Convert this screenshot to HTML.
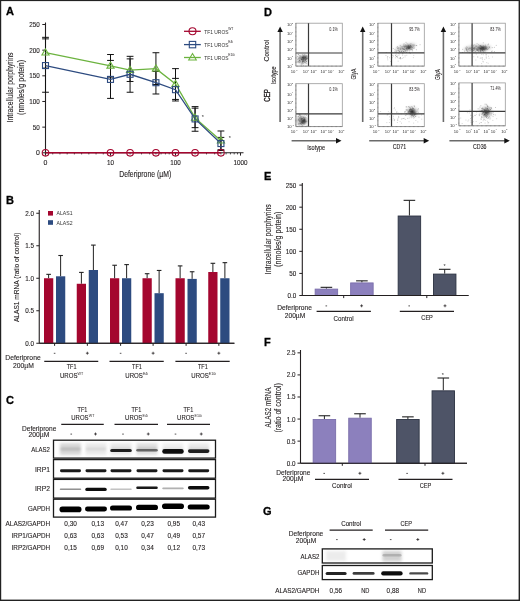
<!DOCTYPE html>
<html><head><meta charset="utf-8"><style>
html,body{margin:0;padding:0;background:#fff;}
body{width:520px;height:601px;overflow:hidden;font-family:"Liberation Sans", sans-serif;}
svg{display:block;will-change:transform;}
</style></head><body>
<svg width="520" height="601" viewBox="0 0 520 601" font-family='"Liberation Sans", sans-serif'><defs><filter id="bl5" x="-50%" y="-200%" width="200%" height="500%"><feGaussianBlur stdDeviation="0.5"/></filter><filter id="bl6" x="-50%" y="-200%" width="200%" height="500%"><feGaussianBlur stdDeviation="0.6"/></filter><filter id="bl7" x="-50%" y="-200%" width="200%" height="500%"><feGaussianBlur stdDeviation="0.7"/></filter><filter id="bl12" x="-50%" y="-200%" width="200%" height="500%"><feGaussianBlur stdDeviation="1.2"/></filter><filter id="bl13" x="-50%" y="-200%" width="200%" height="500%"><feGaussianBlur stdDeviation="1.3"/></filter><filter id="bl15" x="-50%" y="-200%" width="200%" height="500%"><feGaussianBlur stdDeviation="1.5"/></filter></defs><text x="6.00" y="15.26" font-size="11.00" text-anchor="start" fill="#000" font-weight="bold" stroke="#000" stroke-width="0.3">A</text>
<text x="6.00" y="204.46" font-size="11.00" text-anchor="start" fill="#000" font-weight="bold" stroke="#000" stroke-width="0.3">B</text>
<text x="6.00" y="404.46" font-size="11.00" text-anchor="start" fill="#000" font-weight="bold" stroke="#000" stroke-width="0.3">C</text>
<text x="264.00" y="15.66" font-size="11.00" text-anchor="start" fill="#000" font-weight="bold" stroke="#000" stroke-width="0.3">D</text>
<text x="264.00" y="179.56" font-size="11.00" text-anchor="start" fill="#000" font-weight="bold" stroke="#000" stroke-width="0.3">E</text>
<text x="264.00" y="345.66" font-size="11.00" text-anchor="start" fill="#000" font-weight="bold" stroke="#000" stroke-width="0.3">F</text>
<text x="263.00" y="514.56" font-size="11.00" text-anchor="start" fill="#000" font-weight="bold" stroke="#000" stroke-width="0.3">G</text>
<line x1="45.50" y1="22.50" x2="45.50" y2="155.00" stroke="#231f20" stroke-width="1.1" />
<line x1="42.30" y1="152.80" x2="45.50" y2="152.80" stroke="#231f20" stroke-width="1" />
<text x="39.80" y="155.29" font-size="6.93" text-anchor="end" fill="#231f20" stroke="#231f20" stroke-width="0.12">0</text>
<line x1="42.30" y1="127.14" x2="45.50" y2="127.14" stroke="#231f20" stroke-width="1" />
<text x="39.80" y="129.63" font-size="6.93" text-anchor="end" fill="#231f20" textLength="7.01" lengthAdjust="spacingAndGlyphs" stroke="#231f20" stroke-width="0.12">50</text>
<line x1="42.30" y1="101.48" x2="45.50" y2="101.48" stroke="#231f20" stroke-width="1" />
<text x="39.80" y="103.97" font-size="6.93" text-anchor="end" fill="#231f20" textLength="10.51" lengthAdjust="spacingAndGlyphs" stroke="#231f20" stroke-width="0.12">100</text>
<line x1="42.30" y1="75.82" x2="45.50" y2="75.82" stroke="#231f20" stroke-width="1" />
<text x="39.80" y="78.31" font-size="6.93" text-anchor="end" fill="#231f20" textLength="10.51" lengthAdjust="spacingAndGlyphs" stroke="#231f20" stroke-width="0.12">150</text>
<line x1="42.30" y1="50.16" x2="45.50" y2="50.16" stroke="#231f20" stroke-width="1" />
<text x="39.80" y="52.65" font-size="6.93" text-anchor="end" fill="#231f20" textLength="10.51" lengthAdjust="spacingAndGlyphs" stroke="#231f20" stroke-width="0.12">200</text>
<line x1="42.30" y1="24.50" x2="45.50" y2="24.50" stroke="#231f20" stroke-width="1" />
<text x="39.80" y="26.99" font-size="6.93" text-anchor="end" fill="#231f20" textLength="10.51" lengthAdjust="spacingAndGlyphs" stroke="#231f20" stroke-width="0.12">250</text>
<line x1="45.50" y1="152.80" x2="243.50" y2="152.80" stroke="#231f20" stroke-width="1.1" />
<line x1="45.50" y1="152.80" x2="45.50" y2="155.60" stroke="#231f20" stroke-width="1" />
<line x1="110.50" y1="152.80" x2="110.50" y2="155.60" stroke="#231f20" stroke-width="1" />
<line x1="175.50" y1="152.80" x2="175.50" y2="155.60" stroke="#231f20" stroke-width="1" />
<line x1="240.50" y1="152.80" x2="240.50" y2="155.60" stroke="#231f20" stroke-width="1" />
<line x1="52.72" y1="152.80" x2="52.72" y2="154.40" stroke="#231f20" stroke-width="0.8" />
<line x1="59.94" y1="152.80" x2="59.94" y2="154.40" stroke="#231f20" stroke-width="0.8" />
<line x1="67.17" y1="152.80" x2="67.17" y2="154.40" stroke="#231f20" stroke-width="0.8" />
<line x1="74.39" y1="152.80" x2="74.39" y2="154.40" stroke="#231f20" stroke-width="0.8" />
<line x1="81.61" y1="152.80" x2="81.61" y2="154.40" stroke="#231f20" stroke-width="0.8" />
<line x1="88.83" y1="152.80" x2="88.83" y2="154.40" stroke="#231f20" stroke-width="0.8" />
<line x1="96.06" y1="152.80" x2="96.06" y2="154.40" stroke="#231f20" stroke-width="0.8" />
<line x1="103.28" y1="152.80" x2="103.28" y2="154.40" stroke="#231f20" stroke-width="0.8" />
<line x1="110.50" y1="152.80" x2="110.50" y2="154.40" stroke="#231f20" stroke-width="0.8" />
<line x1="130.07" y1="152.80" x2="130.07" y2="154.40" stroke="#231f20" stroke-width="0.8" />
<line x1="141.51" y1="152.80" x2="141.51" y2="154.40" stroke="#231f20" stroke-width="0.8" />
<line x1="149.63" y1="152.80" x2="149.63" y2="154.40" stroke="#231f20" stroke-width="0.8" />
<line x1="155.93" y1="152.80" x2="155.93" y2="154.40" stroke="#231f20" stroke-width="0.8" />
<line x1="161.08" y1="152.80" x2="161.08" y2="154.40" stroke="#231f20" stroke-width="0.8" />
<line x1="165.43" y1="152.80" x2="165.43" y2="154.40" stroke="#231f20" stroke-width="0.8" />
<line x1="169.20" y1="152.80" x2="169.20" y2="154.40" stroke="#231f20" stroke-width="0.8" />
<line x1="172.53" y1="152.80" x2="172.53" y2="154.40" stroke="#231f20" stroke-width="0.8" />
<line x1="195.07" y1="152.80" x2="195.07" y2="154.40" stroke="#231f20" stroke-width="0.8" />
<line x1="206.51" y1="152.80" x2="206.51" y2="154.40" stroke="#231f20" stroke-width="0.8" />
<line x1="214.63" y1="152.80" x2="214.63" y2="154.40" stroke="#231f20" stroke-width="0.8" />
<line x1="220.93" y1="152.80" x2="220.93" y2="154.40" stroke="#231f20" stroke-width="0.8" />
<line x1="226.08" y1="152.80" x2="226.08" y2="154.40" stroke="#231f20" stroke-width="0.8" />
<line x1="230.43" y1="152.80" x2="230.43" y2="154.40" stroke="#231f20" stroke-width="0.8" />
<line x1="234.20" y1="152.80" x2="234.20" y2="154.40" stroke="#231f20" stroke-width="0.8" />
<line x1="237.53" y1="152.80" x2="237.53" y2="154.40" stroke="#231f20" stroke-width="0.8" />
<text x="45.50" y="165.49" font-size="6.93" text-anchor="middle" fill="#231f20" stroke="#231f20" stroke-width="0.12">0</text>
<text x="110.50" y="165.49" font-size="6.93" text-anchor="middle" fill="#231f20" textLength="7.01" lengthAdjust="spacingAndGlyphs" stroke="#231f20" stroke-width="0.12">10</text>
<text x="175.50" y="165.49" font-size="6.93" text-anchor="middle" fill="#231f20" textLength="10.51" lengthAdjust="spacingAndGlyphs" stroke="#231f20" stroke-width="0.12">100</text>
<text x="240.50" y="165.49" font-size="6.93" text-anchor="middle" fill="#231f20" textLength="14.02" lengthAdjust="spacingAndGlyphs" stroke="#231f20" stroke-width="0.12">1000</text>
<text x="145.20" y="177.22" font-size="8.40" text-anchor="middle" fill="#231f20" textLength="52.00" lengthAdjust="spacingAndGlyphs" stroke="#231f20" stroke-width="0.12">Deferiprone (µM)</text>
<text x="9.80" y="90.52" font-size="8.40" text-anchor="middle" fill="#231f20" textLength="70.00" lengthAdjust="spacingAndGlyphs" transform="rotate(-90 9.80 87.50)" stroke="#231f20" stroke-width="0.12">Intracellular porphyrins</text>
<text x="20.80" y="90.52" font-size="8.40" text-anchor="middle" fill="#231f20" textLength="55.00" lengthAdjust="spacingAndGlyphs" transform="rotate(-90 20.80 87.50)" stroke="#231f20" stroke-width="0.12">(nmoles/g potein)</text>
<line x1="45.50" y1="38.87" x2="45.50" y2="92.24" stroke="#111" stroke-width="1" />
<line x1="42.10" y1="38.87" x2="48.90" y2="38.87" stroke="#111" stroke-width="1" />
<line x1="42.10" y1="92.24" x2="48.90" y2="92.24" stroke="#111" stroke-width="1" />
<line x1="110.50" y1="60.42" x2="110.50" y2="98.40" stroke="#111" stroke-width="1" />
<line x1="107.10" y1="60.42" x2="113.90" y2="60.42" stroke="#111" stroke-width="1" />
<line x1="107.10" y1="98.40" x2="113.90" y2="98.40" stroke="#111" stroke-width="1" />
<line x1="130.07" y1="56.32" x2="130.07" y2="92.24" stroke="#111" stroke-width="1" />
<line x1="126.67" y1="56.32" x2="133.47" y2="56.32" stroke="#111" stroke-width="1" />
<line x1="126.67" y1="92.24" x2="133.47" y2="92.24" stroke="#111" stroke-width="1" />
<line x1="155.93" y1="71.41" x2="155.93" y2="93.99" stroke="#111" stroke-width="1" />
<line x1="152.53" y1="71.41" x2="159.33" y2="71.41" stroke="#111" stroke-width="1" />
<line x1="152.53" y1="93.99" x2="159.33" y2="93.99" stroke="#111" stroke-width="1" />
<line x1="175.50" y1="78.39" x2="175.50" y2="100.97" stroke="#111" stroke-width="1" />
<line x1="172.10" y1="78.39" x2="178.90" y2="78.39" stroke="#111" stroke-width="1" />
<line x1="172.10" y1="100.97" x2="178.90" y2="100.97" stroke="#111" stroke-width="1" />
<line x1="195.07" y1="106.61" x2="195.07" y2="131.25" stroke="#111" stroke-width="1" />
<line x1="191.67" y1="106.61" x2="198.47" y2="106.61" stroke="#111" stroke-width="1" />
<line x1="191.67" y1="131.25" x2="198.47" y2="131.25" stroke="#111" stroke-width="1" />
<line x1="220.93" y1="137.40" x2="220.93" y2="149.72" stroke="#111" stroke-width="1" />
<line x1="217.53" y1="137.40" x2="224.33" y2="137.40" stroke="#111" stroke-width="1" />
<line x1="217.53" y1="149.72" x2="224.33" y2="149.72" stroke="#111" stroke-width="1" />
<line x1="45.50" y1="37.33" x2="45.50" y2="68.12" stroke="#111" stroke-width="1" />
<line x1="42.10" y1="37.33" x2="48.90" y2="37.33" stroke="#111" stroke-width="1" />
<line x1="42.10" y1="68.12" x2="48.90" y2="68.12" stroke="#111" stroke-width="1" />
<line x1="110.50" y1="54.52" x2="110.50" y2="77.10" stroke="#111" stroke-width="1" />
<line x1="107.10" y1="54.52" x2="113.90" y2="54.52" stroke="#111" stroke-width="1" />
<line x1="107.10" y1="77.10" x2="113.90" y2="77.10" stroke="#111" stroke-width="1" />
<line x1="130.07" y1="58.88" x2="130.07" y2="81.47" stroke="#111" stroke-width="1" />
<line x1="126.67" y1="58.88" x2="133.47" y2="58.88" stroke="#111" stroke-width="1" />
<line x1="126.67" y1="81.47" x2="133.47" y2="81.47" stroke="#111" stroke-width="1" />
<line x1="155.93" y1="52.73" x2="155.93" y2="84.54" stroke="#111" stroke-width="1" />
<line x1="152.53" y1="52.73" x2="159.33" y2="52.73" stroke="#111" stroke-width="1" />
<line x1="152.53" y1="84.54" x2="159.33" y2="84.54" stroke="#111" stroke-width="1" />
<line x1="175.50" y1="68.64" x2="175.50" y2="99.43" stroke="#111" stroke-width="1" />
<line x1="172.10" y1="68.64" x2="178.90" y2="68.64" stroke="#111" stroke-width="1" />
<line x1="172.10" y1="99.43" x2="178.90" y2="99.43" stroke="#111" stroke-width="1" />
<line x1="195.07" y1="108.15" x2="195.07" y2="127.65" stroke="#111" stroke-width="1" />
<line x1="191.67" y1="108.15" x2="198.47" y2="108.15" stroke="#111" stroke-width="1" />
<line x1="191.67" y1="127.65" x2="198.47" y2="127.65" stroke="#111" stroke-width="1" />
<line x1="220.93" y1="130.99" x2="220.93" y2="150.49" stroke="#111" stroke-width="1" />
<line x1="217.53" y1="130.99" x2="224.33" y2="130.99" stroke="#111" stroke-width="1" />
<line x1="217.53" y1="150.49" x2="224.33" y2="150.49" stroke="#111" stroke-width="1" />
<polyline points="45.50,52.73 110.50,65.81 130.07,70.17 155.93,68.64 175.50,84.03 195.07,117.90 220.93,140.74" fill="none" stroke="#6cb33f" stroke-width="1.3"/>
<polyline points="45.50,65.56 110.50,79.41 130.07,74.28 155.93,82.70 175.50,89.68 195.07,118.93 220.93,143.56" fill="none" stroke="#2d4b80" stroke-width="1.3"/>
<line x1="45.50" y1="152.80" x2="220.93" y2="152.80" stroke="#a4062f" stroke-width="1.4" />
<polygon points="45.50,48.93 49.10,55.05 41.90,55.05" fill="none" stroke="#6cb33f" stroke-width="1.1"/>
<polygon points="110.50,62.02 114.10,68.14 106.90,68.14" fill="none" stroke="#6cb33f" stroke-width="1.1"/>
<polygon points="130.07,66.38 133.67,72.50 126.47,72.50" fill="none" stroke="#6cb33f" stroke-width="1.1"/>
<polygon points="155.93,64.84 159.53,70.96 152.33,70.96" fill="none" stroke="#6cb33f" stroke-width="1.1"/>
<polygon points="175.50,80.24 179.10,86.36 171.90,86.36" fill="none" stroke="#6cb33f" stroke-width="1.1"/>
<polygon points="195.07,114.11 198.67,120.23 191.47,120.23" fill="none" stroke="#6cb33f" stroke-width="1.1"/>
<polygon points="220.93,136.95 224.53,143.07 217.33,143.07" fill="none" stroke="#6cb33f" stroke-width="1.1"/>
<rect x="42.50" y="62.56" width="6.00" height="6.00" fill="none" stroke="#2d4b80" stroke-width="1.1"/>
<rect x="107.50" y="76.41" width="6.00" height="6.00" fill="none" stroke="#2d4b80" stroke-width="1.1"/>
<rect x="127.07" y="71.28" width="6.00" height="6.00" fill="none" stroke="#2d4b80" stroke-width="1.1"/>
<rect x="152.93" y="79.70" width="6.00" height="6.00" fill="none" stroke="#2d4b80" stroke-width="1.1"/>
<rect x="172.50" y="86.68" width="6.00" height="6.00" fill="none" stroke="#2d4b80" stroke-width="1.1"/>
<rect x="192.07" y="115.93" width="6.00" height="6.00" fill="none" stroke="#2d4b80" stroke-width="1.1"/>
<rect x="217.93" y="140.56" width="6.00" height="6.00" fill="none" stroke="#2d4b80" stroke-width="1.1"/>
<circle cx="45.50" cy="152.80" r="3.3" fill="none" stroke="#a4062f" stroke-width="1.1"/>
<circle cx="110.50" cy="152.80" r="3.3" fill="none" stroke="#a4062f" stroke-width="1.1"/>
<circle cx="130.07" cy="152.80" r="3.3" fill="none" stroke="#a4062f" stroke-width="1.1"/>
<circle cx="155.93" cy="152.80" r="3.3" fill="none" stroke="#a4062f" stroke-width="1.1"/>
<circle cx="175.50" cy="152.80" r="3.3" fill="none" stroke="#a4062f" stroke-width="1.1"/>
<circle cx="195.07" cy="152.80" r="3.3" fill="none" stroke="#a4062f" stroke-width="1.1"/>
<circle cx="220.93" cy="152.80" r="3.3" fill="none" stroke="#a4062f" stroke-width="1.1"/>
<text x="202.80" y="119.48" font-size="5.50" text-anchor="middle" fill="#333">*</text>
<text x="229.70" y="140.18" font-size="5.50" text-anchor="middle" fill="#333">*</text>
<line x1="184.00" y1="31.30" x2="200.80" y2="31.30" stroke="#a4062f" stroke-width="1.3" />
<circle cx="192.50" cy="31.30" r="3.5" fill="none" stroke="#a4062f" stroke-width="1.1"/>
<text x="204.20" y="33.64" font-size="5.94" text-anchor="start" fill="#333" textLength="24.30" lengthAdjust="spacingAndGlyphs">TF1 UROS</text>
<text x="228.20" y="30.01" font-size="3.63" text-anchor="start" fill="#231f20" textLength="5.13" lengthAdjust="spacingAndGlyphs">WT</text>
<line x1="184.00" y1="44.60" x2="200.80" y2="44.60" stroke="#2d4b80" stroke-width="1.3" />
<rect x="189.30" y="41.40" width="6.40" height="6.40" fill="none" stroke="#2d4b80" stroke-width="1.1"/>
<text x="204.20" y="46.94" font-size="5.94" text-anchor="start" fill="#333" textLength="24.30" lengthAdjust="spacingAndGlyphs">TF1 UROS</text>
<text x="228.20" y="43.31" font-size="3.63" text-anchor="start" fill="#231f20" textLength="4.77" lengthAdjust="spacingAndGlyphs">E4i</text>
<line x1="184.00" y1="57.50" x2="200.80" y2="57.50" stroke="#6cb33f" stroke-width="1.3" />
<polygon points="192.50,53.49 196.30,59.95 188.70,59.95" fill="none" stroke="#6cb33f" stroke-width="1.1"/>
<text x="204.20" y="59.84" font-size="5.94" text-anchor="start" fill="#333" textLength="24.30" lengthAdjust="spacingAndGlyphs">TF1 UROS</text>
<text x="228.20" y="56.21" font-size="3.63" text-anchor="start" fill="#231f20" textLength="6.61" lengthAdjust="spacingAndGlyphs">E10i</text>
<line x1="39.25" y1="210.00" x2="39.25" y2="343.25" stroke="#231f20" stroke-width="1.1" />
<line x1="36.30" y1="343.25" x2="39.25" y2="343.25" stroke="#231f20" stroke-width="1" />
<text x="34.00" y="345.74" font-size="6.93" text-anchor="end" fill="#231f20" textLength="8.76" lengthAdjust="spacingAndGlyphs" stroke="#231f20" stroke-width="0.12">0.0</text>
<line x1="36.30" y1="310.75" x2="39.25" y2="310.75" stroke="#231f20" stroke-width="1" />
<text x="34.00" y="313.24" font-size="6.93" text-anchor="end" fill="#231f20" textLength="8.76" lengthAdjust="spacingAndGlyphs" stroke="#231f20" stroke-width="0.12">0.5</text>
<line x1="36.30" y1="278.25" x2="39.25" y2="278.25" stroke="#231f20" stroke-width="1" />
<text x="34.00" y="280.74" font-size="6.93" text-anchor="end" fill="#231f20" textLength="8.76" lengthAdjust="spacingAndGlyphs" stroke="#231f20" stroke-width="0.12">1.0</text>
<line x1="36.30" y1="245.75" x2="39.25" y2="245.75" stroke="#231f20" stroke-width="1" />
<text x="34.00" y="248.24" font-size="6.93" text-anchor="end" fill="#231f20" textLength="8.76" lengthAdjust="spacingAndGlyphs" stroke="#231f20" stroke-width="0.12">1.5</text>
<line x1="36.30" y1="213.25" x2="39.25" y2="213.25" stroke="#231f20" stroke-width="1" />
<text x="34.00" y="215.74" font-size="6.93" text-anchor="end" fill="#231f20" textLength="8.76" lengthAdjust="spacingAndGlyphs" stroke="#231f20" stroke-width="0.12">2.0</text>
<line x1="39.25" y1="343.25" x2="234.40" y2="343.25" stroke="#231f20" stroke-width="1.1" />
<line x1="48.62" y1="274.35" x2="48.62" y2="278.25" stroke="#222" stroke-width="1" />
<line x1="46.33" y1="274.35" x2="50.92" y2="274.35" stroke="#222" stroke-width="1.1" />
<rect x="44.00" y="278.25" width="9.25" height="65.00" fill="#a4062f" stroke="none" stroke-width="1" />
<line x1="60.62" y1="255.50" x2="60.62" y2="276.30" stroke="#222" stroke-width="1" />
<line x1="58.33" y1="255.50" x2="62.92" y2="255.50" stroke="#222" stroke-width="1.1" />
<rect x="56.00" y="276.30" width="9.25" height="66.95" fill="#2d4b80" stroke="none" stroke-width="1" />
<line x1="54.60" y1="343.25" x2="54.60" y2="345.85" stroke="#231f20" stroke-width="1" />
<line x1="53.80" y1="353.30" x2="55.40" y2="353.30" stroke="#231f20" stroke-width="0.9" opacity="0.85"/>
<line x1="81.38" y1="272.40" x2="81.38" y2="283.77" stroke="#222" stroke-width="1" />
<line x1="79.08" y1="272.40" x2="83.67" y2="272.40" stroke="#222" stroke-width="1.1" />
<rect x="76.75" y="283.77" width="9.25" height="59.48" fill="#a4062f" stroke="none" stroke-width="1" />
<line x1="93.38" y1="245.10" x2="93.38" y2="270.00" stroke="#222" stroke-width="1" />
<line x1="91.08" y1="245.10" x2="95.67" y2="245.10" stroke="#222" stroke-width="1.1" />
<rect x="88.75" y="270.00" width="9.25" height="73.25" fill="#2d4b80" stroke="none" stroke-width="1" />
<line x1="87.35" y1="343.25" x2="87.35" y2="345.85" stroke="#231f20" stroke-width="1" />
<path d="M85.90,353.20H88.80M87.35,351.75V354.65" stroke="#231f20" stroke-width="0.75" fill="none"/>
<line x1="114.62" y1="265.25" x2="114.62" y2="278.25" stroke="#222" stroke-width="1" />
<line x1="112.33" y1="265.25" x2="116.92" y2="265.25" stroke="#222" stroke-width="1.1" />
<rect x="110.00" y="278.25" width="9.25" height="65.00" fill="#a4062f" stroke="none" stroke-width="1" />
<line x1="126.62" y1="264.60" x2="126.62" y2="278.25" stroke="#222" stroke-width="1" />
<line x1="124.33" y1="264.60" x2="128.93" y2="264.60" stroke="#222" stroke-width="1.1" />
<rect x="122.00" y="278.25" width="9.25" height="65.00" fill="#2d4b80" stroke="none" stroke-width="1" />
<line x1="120.60" y1="343.25" x2="120.60" y2="345.85" stroke="#231f20" stroke-width="1" />
<line x1="119.80" y1="353.30" x2="121.40" y2="353.30" stroke="#231f20" stroke-width="0.9" opacity="0.85"/>
<line x1="147.12" y1="273.70" x2="147.12" y2="278.25" stroke="#222" stroke-width="1" />
<line x1="144.82" y1="273.70" x2="149.43" y2="273.70" stroke="#222" stroke-width="1.1" />
<rect x="142.50" y="278.25" width="9.25" height="65.00" fill="#a4062f" stroke="none" stroke-width="1" />
<line x1="159.12" y1="270.45" x2="159.12" y2="293.20" stroke="#222" stroke-width="1" />
<line x1="156.82" y1="270.45" x2="161.43" y2="270.45" stroke="#222" stroke-width="1.1" />
<rect x="154.50" y="293.20" width="9.25" height="50.05" fill="#2d4b80" stroke="none" stroke-width="1" />
<line x1="153.10" y1="343.25" x2="153.10" y2="345.85" stroke="#231f20" stroke-width="1" />
<path d="M151.65,353.20H154.55M153.10,351.75V354.65" stroke="#231f20" stroke-width="0.75" fill="none"/>
<line x1="180.12" y1="265.90" x2="180.12" y2="278.25" stroke="#222" stroke-width="1" />
<line x1="177.82" y1="265.90" x2="182.43" y2="265.90" stroke="#222" stroke-width="1.1" />
<rect x="175.50" y="278.25" width="9.25" height="65.00" fill="#a4062f" stroke="none" stroke-width="1" />
<line x1="192.12" y1="271.75" x2="192.12" y2="278.90" stroke="#222" stroke-width="1" />
<line x1="189.82" y1="271.75" x2="194.43" y2="271.75" stroke="#222" stroke-width="1.1" />
<rect x="187.50" y="278.90" width="9.25" height="64.35" fill="#2d4b80" stroke="none" stroke-width="1" />
<line x1="186.10" y1="343.25" x2="186.10" y2="345.85" stroke="#231f20" stroke-width="1" />
<line x1="185.30" y1="353.30" x2="186.90" y2="353.30" stroke="#231f20" stroke-width="0.9" opacity="0.85"/>
<line x1="212.88" y1="263.30" x2="212.88" y2="272.01" stroke="#222" stroke-width="1" />
<line x1="210.57" y1="263.30" x2="215.18" y2="263.30" stroke="#222" stroke-width="1.1" />
<rect x="208.25" y="272.01" width="9.25" height="71.24" fill="#a4062f" stroke="none" stroke-width="1" />
<line x1="224.88" y1="262.65" x2="224.88" y2="278.25" stroke="#222" stroke-width="1" />
<line x1="222.57" y1="262.65" x2="227.18" y2="262.65" stroke="#222" stroke-width="1.1" />
<rect x="220.25" y="278.25" width="9.25" height="65.00" fill="#2d4b80" stroke="none" stroke-width="1" />
<line x1="218.85" y1="343.25" x2="218.85" y2="345.85" stroke="#231f20" stroke-width="1" />
<path d="M217.40,353.20H220.30M218.85,351.75V354.65" stroke="#231f20" stroke-width="0.75" fill="none"/>
<line x1="39.25" y1="343.25" x2="234.40" y2="343.25" stroke="#231f20" stroke-width="1.1" />
<text x="23.00" y="360.19" font-size="7.48" text-anchor="middle" fill="#231f20" textLength="35.30" lengthAdjust="spacingAndGlyphs" stroke="#231f20" stroke-width="0.12">Deferiprone</text>
<text x="23.40" y="368.19" font-size="7.48" text-anchor="middle" fill="#231f20" textLength="20.80" lengthAdjust="spacingAndGlyphs" stroke="#231f20" stroke-width="0.12">200µM</text>
<line x1="44.25" y1="361.30" x2="98.25" y2="361.30" stroke="#231f20" stroke-width="1.2" />
<text x="71.55" y="369.49" font-size="7.48" text-anchor="middle" fill="#231f20" textLength="9.80" lengthAdjust="spacingAndGlyphs" stroke="#231f20" stroke-width="0.12">TF1</text>
<text x="68.75" y="378.29" font-size="7.48" text-anchor="middle" fill="#231f20" textLength="17.50" lengthAdjust="spacingAndGlyphs" stroke="#231f20" stroke-width="0.12">UROS</text>
<text x="77.55" y="374.83" font-size="3.96" text-anchor="start" fill="#231f20" textLength="5.60" lengthAdjust="spacingAndGlyphs">WT</text>
<line x1="109.50" y1="361.30" x2="163.75" y2="361.30" stroke="#231f20" stroke-width="1.2" />
<text x="136.93" y="369.49" font-size="7.48" text-anchor="middle" fill="#231f20" textLength="9.80" lengthAdjust="spacingAndGlyphs" stroke="#231f20" stroke-width="0.12">TF1</text>
<text x="134.12" y="378.29" font-size="7.48" text-anchor="middle" fill="#231f20" textLength="17.50" lengthAdjust="spacingAndGlyphs" stroke="#231f20" stroke-width="0.12">UROS</text>
<text x="142.93" y="374.83" font-size="3.96" text-anchor="start" fill="#231f20" textLength="5.20" lengthAdjust="spacingAndGlyphs">E4i</text>
<line x1="175.40" y1="361.30" x2="229.70" y2="361.30" stroke="#231f20" stroke-width="1.2" />
<text x="202.85" y="369.49" font-size="7.48" text-anchor="middle" fill="#231f20" textLength="9.80" lengthAdjust="spacingAndGlyphs" stroke="#231f20" stroke-width="0.12">TF1</text>
<text x="200.05" y="378.29" font-size="7.48" text-anchor="middle" fill="#231f20" textLength="17.50" lengthAdjust="spacingAndGlyphs" stroke="#231f20" stroke-width="0.12">UROS</text>
<text x="208.85" y="374.83" font-size="3.96" text-anchor="start" fill="#231f20" textLength="7.21" lengthAdjust="spacingAndGlyphs">E10i</text>
<rect x="48.00" y="211.00" width="5.00" height="4.60" fill="#a4062f" stroke="none" stroke-width="1" />
<rect x="48.00" y="220.20" width="5.00" height="4.60" fill="#2d4b80" stroke="none" stroke-width="1" />
<text x="56.50" y="215.44" font-size="5.94" text-anchor="start" fill="#333" textLength="16.00" lengthAdjust="spacingAndGlyphs">ALAS1</text>
<text x="56.50" y="224.64" font-size="5.94" text-anchor="start" fill="#333" textLength="16.00" lengthAdjust="spacingAndGlyphs">ALAS2</text>
<text x="15.80" y="280.20" font-size="8.05" text-anchor="middle" fill="#231f20" textLength="89.50" lengthAdjust="spacingAndGlyphs" transform="rotate(-90 15.80 277.30)" stroke="#231f20" stroke-width="0.12">ALAS1 mRNA (ratio of control)</text>
<text x="82.50" y="412.29" font-size="7.48" text-anchor="middle" fill="#231f20" textLength="9.80" lengthAdjust="spacingAndGlyphs" stroke="#231f20" stroke-width="0.12">TF1</text>
<text x="79.90" y="420.29" font-size="7.48" text-anchor="middle" fill="#231f20" textLength="17.20" lengthAdjust="spacingAndGlyphs" stroke="#231f20" stroke-width="0.12">UROS</text>
<text x="88.80" y="417.23" font-size="3.96" text-anchor="start" fill="#231f20" textLength="5.60" lengthAdjust="spacingAndGlyphs">WT</text>
<text x="136.30" y="412.29" font-size="7.48" text-anchor="middle" fill="#231f20" textLength="9.80" lengthAdjust="spacingAndGlyphs" stroke="#231f20" stroke-width="0.12">TF1</text>
<text x="133.70" y="420.29" font-size="7.48" text-anchor="middle" fill="#231f20" textLength="17.20" lengthAdjust="spacingAndGlyphs" stroke="#231f20" stroke-width="0.12">UROS</text>
<text x="142.60" y="417.23" font-size="3.96" text-anchor="start" fill="#231f20" textLength="5.20" lengthAdjust="spacingAndGlyphs">E4i</text>
<text x="188.30" y="412.29" font-size="7.48" text-anchor="middle" fill="#231f20" textLength="9.80" lengthAdjust="spacingAndGlyphs" stroke="#231f20" stroke-width="0.12">TF1</text>
<text x="185.70" y="420.29" font-size="7.48" text-anchor="middle" fill="#231f20" textLength="17.20" lengthAdjust="spacingAndGlyphs" stroke="#231f20" stroke-width="0.12">UROS</text>
<text x="194.60" y="417.23" font-size="3.96" text-anchor="start" fill="#231f20" textLength="7.21" lengthAdjust="spacingAndGlyphs">E10i</text>
<line x1="61.25" y1="424.30" x2="103.75" y2="424.30" stroke="#231f20" stroke-width="1.25" />
<line x1="114.50" y1="424.30" x2="158.00" y2="424.30" stroke="#231f20" stroke-width="1.25" />
<line x1="167.00" y1="424.30" x2="210.00" y2="424.30" stroke="#231f20" stroke-width="1.25" />
<text x="56.30" y="430.69" font-size="7.48" text-anchor="end" fill="#231f20" textLength="34.30" lengthAdjust="spacingAndGlyphs" stroke="#231f20" stroke-width="0.12">Deferiprone</text>
<text x="49.30" y="437.29" font-size="7.48" text-anchor="end" fill="#231f20" textLength="20.80" lengthAdjust="spacingAndGlyphs" stroke="#231f20" stroke-width="0.12">200µM</text>
<line x1="70.45" y1="434.10" x2="72.05" y2="434.10" stroke="#231f20" stroke-width="0.9" opacity="0.85"/>
<path d="M94.05,434.00H96.95M95.50,432.55V435.45" stroke="#231f20" stroke-width="0.75" fill="none"/>
<line x1="122.20" y1="434.10" x2="123.80" y2="434.10" stroke="#231f20" stroke-width="0.9" opacity="0.85"/>
<path d="M146.80,434.00H149.70M148.25,432.55V435.45" stroke="#231f20" stroke-width="0.75" fill="none"/>
<line x1="174.70" y1="434.10" x2="176.30" y2="434.10" stroke="#231f20" stroke-width="0.9" opacity="0.85"/>
<path d="M199.80,434.00H202.70M201.25,432.55V435.45" stroke="#231f20" stroke-width="0.75" fill="none"/>
<text x="50.00" y="451.84" font-size="7.48" text-anchor="end" fill="#231f20" textLength="18.80" lengthAdjust="spacingAndGlyphs" stroke="#231f20" stroke-width="0.12">ALAS2</text>
<text x="50.00" y="471.59" font-size="7.48" text-anchor="end" fill="#231f20" textLength="15.00" lengthAdjust="spacingAndGlyphs" stroke="#231f20" stroke-width="0.12">IRP1</text>
<text x="50.00" y="491.44" font-size="7.48" text-anchor="end" fill="#231f20" textLength="15.00" lengthAdjust="spacingAndGlyphs" stroke="#231f20" stroke-width="0.12">IRP2</text>
<text x="50.00" y="510.84" font-size="7.48" text-anchor="end" fill="#231f20" textLength="22.00" lengthAdjust="spacingAndGlyphs" stroke="#231f20" stroke-width="0.12">GAPDH</text>
<rect x="60.00" y="443" width="21" height="12" fill="#999" opacity="0.38" filter="url(#bl15)"/>
<rect x="60.50" y="447.5" width="20" height="3" fill="#888" opacity="0.38" filter="url(#bl12)"/>
<rect x="85.50" y="443" width="21" height="12" fill="#999" opacity="0.2" filter="url(#bl15)"/>
<rect x="86.00" y="447.5" width="20" height="3" fill="#888" opacity="0.2" filter="url(#bl12)"/>
<rect x="110.50" y="443" width="21" height="12" fill="#999" opacity="0.22" filter="url(#bl15)"/>
<rect x="111.00" y="447.5" width="20" height="3" fill="#888" opacity="0.22" filter="url(#bl12)"/>
<rect x="110.25" y="449.10" width="21.50" height="3.00" rx="1.50" fill="#0a0a0a" opacity="0.92" filter="url(#bl6)"/>
<rect x="136.50" y="443" width="21" height="12" fill="#999" opacity="0.3" filter="url(#bl15)"/>
<rect x="137.00" y="447.5" width="20" height="3" fill="#888" opacity="0.3" filter="url(#bl12)"/>
<rect x="136.25" y="448.90" width="21.50" height="2.60" rx="1.30" fill="#0a0a0a" opacity="0.55" filter="url(#bl6)"/>
<rect x="162.50" y="443" width="21" height="12" fill="#999" opacity="0.15" filter="url(#bl15)"/>
<rect x="163.00" y="447.5" width="20" height="3" fill="#888" opacity="0.15" filter="url(#bl12)"/>
<rect x="162.25" y="449.00" width="21.50" height="4.80" rx="2.40" fill="#0a0a0a" opacity="1.0" filter="url(#bl6)"/>
<rect x="188.20" y="443" width="21" height="12" fill="#999" opacity="0.2" filter="url(#bl15)"/>
<rect x="188.70" y="447.5" width="20" height="3" fill="#888" opacity="0.2" filter="url(#bl12)"/>
<rect x="187.95" y="449.30" width="21.50" height="3.60" rx="1.80" fill="#0a0a0a" opacity="0.92" filter="url(#bl6)"/>
<rect x="60.00" y="469.35" width="21.00" height="2.90" rx="1.45" fill="#0a0a0a" opacity="0.95" filter="url(#bl6)"/>
<rect x="85.50" y="469.35" width="21.00" height="2.90" rx="1.45" fill="#0a0a0a" opacity="0.95" filter="url(#bl6)"/>
<rect x="110.50" y="469.35" width="21.00" height="2.90" rx="1.45" fill="#0a0a0a" opacity="0.95" filter="url(#bl6)"/>
<rect x="136.50" y="469.35" width="21.00" height="2.90" rx="1.45" fill="#0a0a0a" opacity="0.95" filter="url(#bl6)"/>
<rect x="162.50" y="469.35" width="21.00" height="2.90" rx="1.45" fill="#0a0a0a" opacity="0.95" filter="url(#bl6)"/>
<rect x="188.20" y="469.35" width="21.00" height="2.90" rx="1.45" fill="#0a0a0a" opacity="0.95" filter="url(#bl6)"/>
<rect x="59.75" y="488.40" width="21.50" height="1.60" rx="0.80" fill="#0a0a0a" opacity="0.45" filter="url(#bl6)"/>
<rect x="85.25" y="487.70" width="21.50" height="3.40" rx="1.70" fill="#0a0a0a" opacity="1.0" filter="url(#bl6)"/>
<rect x="110.25" y="488.40" width="21.50" height="1.60" rx="0.80" fill="#0a0a0a" opacity="0.25" filter="url(#bl6)"/>
<rect x="136.25" y="486.60" width="21.50" height="2.40" rx="1.20" fill="#0a0a0a" opacity="0.95" filter="url(#bl6)"/>
<rect x="162.25" y="487.40" width="21.50" height="1.80" rx="0.90" fill="#0a0a0a" opacity="0.32" filter="url(#bl6)"/>
<rect x="187.95" y="486.00" width="21.50" height="3.60" rx="1.80" fill="#0a0a0a" opacity="1.0" filter="url(#bl6)"/>
<rect x="59.50" y="506.60" width="22.00" height="5.60" rx="2.80" fill="#050505" opacity="1" filter="url(#bl6)"/>
<rect x="85.00" y="506.60" width="22.00" height="4.80" rx="2.40" fill="#050505" opacity="1" filter="url(#bl6)"/>
<rect x="110.00" y="505.40" width="22.00" height="5.20" rx="2.60" fill="#050505" opacity="1" filter="url(#bl6)"/>
<rect x="136.00" y="504.80" width="22.00" height="5.20" rx="2.60" fill="#050505" opacity="1" filter="url(#bl6)"/>
<rect x="162.00" y="503.40" width="22.00" height="5.60" rx="2.80" fill="#050505" opacity="1" filter="url(#bl6)"/>
<rect x="187.70" y="504.50" width="22.00" height="5.00" rx="2.50" fill="#050505" opacity="1" filter="url(#bl6)"/>
<rect x="53.50" y="440.20" width="162.00" height="17.90" fill="none" stroke="#1a1a1a" stroke-width="1.3" />
<rect x="53.50" y="459.60" width="162.00" height="18.60" fill="none" stroke="#1a1a1a" stroke-width="1.3" />
<rect x="53.50" y="479.40" width="162.00" height="18.70" fill="none" stroke="#1a1a1a" stroke-width="1.3" />
<rect x="53.50" y="499.20" width="162.00" height="17.90" fill="none" stroke="#1a1a1a" stroke-width="1.3" />
<text x="50.10" y="526.29" font-size="7.48" text-anchor="end" fill="#231f20" textLength="44.50" lengthAdjust="spacingAndGlyphs" stroke="#231f20" stroke-width="0.12">ALAS2/GAPDH</text>
<text x="70.60" y="526.29" font-size="7.48" text-anchor="middle" fill="#231f20" textLength="12.60" lengthAdjust="spacingAndGlyphs" stroke="#231f20" stroke-width="0.12">0,30</text>
<text x="97.70" y="526.29" font-size="7.48" text-anchor="middle" fill="#231f20" textLength="12.60" lengthAdjust="spacingAndGlyphs" stroke="#231f20" stroke-width="0.12">0,13</text>
<text x="121.50" y="526.29" font-size="7.48" text-anchor="middle" fill="#231f20" textLength="12.60" lengthAdjust="spacingAndGlyphs" stroke="#231f20" stroke-width="0.12">0,47</text>
<text x="147.50" y="526.29" font-size="7.48" text-anchor="middle" fill="#231f20" textLength="12.60" lengthAdjust="spacingAndGlyphs" stroke="#231f20" stroke-width="0.12">0,23</text>
<text x="173.75" y="526.29" font-size="7.48" text-anchor="middle" fill="#231f20" textLength="12.60" lengthAdjust="spacingAndGlyphs" stroke="#231f20" stroke-width="0.12">0,95</text>
<text x="198.75" y="526.29" font-size="7.48" text-anchor="middle" fill="#231f20" textLength="12.60" lengthAdjust="spacingAndGlyphs" stroke="#231f20" stroke-width="0.12">0,43</text>
<text x="50.10" y="538.29" font-size="7.48" text-anchor="end" fill="#231f20" textLength="38.50" lengthAdjust="spacingAndGlyphs" stroke="#231f20" stroke-width="0.12">IRP1/GAPDH</text>
<text x="70.60" y="538.29" font-size="7.48" text-anchor="middle" fill="#231f20" textLength="12.60" lengthAdjust="spacingAndGlyphs" stroke="#231f20" stroke-width="0.12">0,63</text>
<text x="97.70" y="538.29" font-size="7.48" text-anchor="middle" fill="#231f20" textLength="12.60" lengthAdjust="spacingAndGlyphs" stroke="#231f20" stroke-width="0.12">0,63</text>
<text x="121.50" y="538.29" font-size="7.48" text-anchor="middle" fill="#231f20" textLength="12.60" lengthAdjust="spacingAndGlyphs" stroke="#231f20" stroke-width="0.12">0,53</text>
<text x="147.50" y="538.29" font-size="7.48" text-anchor="middle" fill="#231f20" textLength="12.60" lengthAdjust="spacingAndGlyphs" stroke="#231f20" stroke-width="0.12">0,47</text>
<text x="173.75" y="538.29" font-size="7.48" text-anchor="middle" fill="#231f20" textLength="12.60" lengthAdjust="spacingAndGlyphs" stroke="#231f20" stroke-width="0.12">0,49</text>
<text x="198.75" y="538.29" font-size="7.48" text-anchor="middle" fill="#231f20" textLength="12.60" lengthAdjust="spacingAndGlyphs" stroke="#231f20" stroke-width="0.12">0,57</text>
<text x="50.10" y="550.29" font-size="7.48" text-anchor="end" fill="#231f20" textLength="38.50" lengthAdjust="spacingAndGlyphs" stroke="#231f20" stroke-width="0.12">IRP2/GAPDH</text>
<text x="70.60" y="550.29" font-size="7.48" text-anchor="middle" fill="#231f20" textLength="12.60" lengthAdjust="spacingAndGlyphs" stroke="#231f20" stroke-width="0.12">0,15</text>
<text x="97.70" y="550.29" font-size="7.48" text-anchor="middle" fill="#231f20" textLength="12.60" lengthAdjust="spacingAndGlyphs" stroke="#231f20" stroke-width="0.12">0,69</text>
<text x="121.50" y="550.29" font-size="7.48" text-anchor="middle" fill="#231f20" textLength="12.60" lengthAdjust="spacingAndGlyphs" stroke="#231f20" stroke-width="0.12">0,10</text>
<text x="147.50" y="550.29" font-size="7.48" text-anchor="middle" fill="#231f20" textLength="12.60" lengthAdjust="spacingAndGlyphs" stroke="#231f20" stroke-width="0.12">0,34</text>
<text x="173.75" y="550.29" font-size="7.48" text-anchor="middle" fill="#231f20" textLength="12.60" lengthAdjust="spacingAndGlyphs" stroke="#231f20" stroke-width="0.12">0,12</text>
<text x="198.75" y="550.29" font-size="7.48" text-anchor="middle" fill="#231f20" textLength="12.60" lengthAdjust="spacingAndGlyphs" stroke="#231f20" stroke-width="0.12">0,73</text>
<g>
<rect x="295.90" y="23.20" width="46.40" height="42.90" fill="none" stroke="#9a9a9a" stroke-width="0.8" />
<rect x="302.5" y="60.3" width="0.9" height="0.9" fill="#222" opacity="0.3"/>
<rect x="301.7" y="57.2" width="0.9" height="0.9" fill="#222" opacity="0.3"/>
<rect x="301.2" y="56.9" width="0.9" height="0.9" fill="#222" opacity="0.3"/>
<rect x="302.7" y="63.0" width="0.9" height="0.9" fill="#222" opacity="0.3"/>
<rect x="301.1" y="57.9" width="0.9" height="0.9" fill="#222" opacity="0.3"/>
<rect x="303.9" y="60.4" width="0.9" height="0.9" fill="#222" opacity="0.3"/>
<rect x="302.8" y="57.1" width="0.9" height="0.9" fill="#222" opacity="0.3"/>
<rect x="302.4" y="61.3" width="0.9" height="0.9" fill="#222" opacity="0.3"/>
<rect x="298.7" y="58.3" width="0.9" height="0.9" fill="#222" opacity="0.3"/>
<rect x="297.2" y="56.1" width="0.9" height="0.9" fill="#222" opacity="0.3"/>
<rect x="297.3" y="58.9" width="0.9" height="0.9" fill="#222" opacity="0.3"/>
<rect x="299.0" y="60.2" width="0.9" height="0.9" fill="#222" opacity="0.3"/>
<rect x="302.9" y="59.0" width="0.9" height="0.9" fill="#222" opacity="0.3"/>
<rect x="302.4" y="59.8" width="0.9" height="0.9" fill="#222" opacity="0.3"/>
<rect x="298.2" y="58.3" width="0.9" height="0.9" fill="#222" opacity="0.3"/>
<rect x="299.8" y="57.4" width="0.9" height="0.9" fill="#222" opacity="0.3"/>
<rect x="305.5" y="57.4" width="0.9" height="0.9" fill="#222" opacity="0.3"/>
<rect x="302.4" y="61.8" width="0.9" height="0.9" fill="#222" opacity="0.3"/>
<rect x="300.9" y="59.2" width="0.9" height="0.9" fill="#222" opacity="0.3"/>
<rect x="302.8" y="59.7" width="0.9" height="0.9" fill="#222" opacity="0.3"/>
<rect x="299.1" y="59.7" width="0.9" height="0.9" fill="#222" opacity="0.3"/>
<rect x="306.3" y="55.5" width="0.9" height="0.9" fill="#222" opacity="0.3"/>
<rect x="304.9" y="59.8" width="0.9" height="0.9" fill="#222" opacity="0.3"/>
<rect x="300.7" y="64.7" width="0.9" height="0.9" fill="#222" opacity="0.3"/>
<rect x="304.6" y="56.4" width="0.9" height="0.9" fill="#222" opacity="0.3"/>
<rect x="302.7" y="61.0" width="0.9" height="0.9" fill="#222" opacity="0.3"/>
<rect x="302.0" y="61.3" width="0.9" height="0.9" fill="#222" opacity="0.3"/>
<rect x="302.3" y="61.2" width="0.9" height="0.9" fill="#222" opacity="0.3"/>
<rect x="306.5" y="57.7" width="0.9" height="0.9" fill="#222" opacity="0.3"/>
<rect x="303.1" y="58.3" width="0.9" height="0.9" fill="#222" opacity="0.3"/>
<rect x="302.9" y="56.4" width="0.9" height="0.9" fill="#222" opacity="0.3"/>
<rect x="300.9" y="59.0" width="0.9" height="0.9" fill="#222" opacity="0.3"/>
<rect x="305.0" y="62.5" width="0.9" height="0.9" fill="#222" opacity="0.3"/>
<rect x="298.8" y="57.4" width="0.9" height="0.9" fill="#222" opacity="0.3"/>
<rect x="304.3" y="54.3" width="0.9" height="0.9" fill="#222" opacity="0.3"/>
<rect x="301.2" y="59.2" width="0.9" height="0.9" fill="#222" opacity="0.3"/>
<rect x="306.0" y="61.3" width="0.9" height="0.9" fill="#222" opacity="0.3"/>
<rect x="301.6" y="58.5" width="0.9" height="0.9" fill="#222" opacity="0.3"/>
<rect x="301.8" y="63.5" width="0.9" height="0.9" fill="#222" opacity="0.3"/>
<rect x="301.3" y="58.7" width="0.9" height="0.9" fill="#222" opacity="0.3"/>
<rect x="303.5" y="59.2" width="0.9" height="0.9" fill="#222" opacity="0.3"/>
<rect x="301.9" y="56.6" width="0.9" height="0.9" fill="#222" opacity="0.3"/>
<rect x="302.5" y="58.3" width="0.9" height="0.9" fill="#222" opacity="0.3"/>
<rect x="305.8" y="61.2" width="0.9" height="0.9" fill="#222" opacity="0.3"/>
<rect x="302.4" y="61.2" width="0.9" height="0.9" fill="#222" opacity="0.3"/>
<rect x="301.5" y="62.2" width="0.9" height="0.9" fill="#222" opacity="0.3"/>
<rect x="302.5" y="61.0" width="0.9" height="0.9" fill="#222" opacity="0.3"/>
<rect x="298.9" y="60.4" width="0.9" height="0.9" fill="#222" opacity="0.3"/>
<rect x="297.8" y="54.2" width="0.9" height="0.9" fill="#222" opacity="0.3"/>
<rect x="301.6" y="57.2" width="0.9" height="0.9" fill="#222" opacity="0.3"/>
<rect x="303.0" y="65.3" width="0.9" height="0.9" fill="#222" opacity="0.3"/>
<rect x="300.2" y="57.9" width="0.9" height="0.9" fill="#222" opacity="0.3"/>
<rect x="303.1" y="60.8" width="0.9" height="0.9" fill="#222" opacity="0.3"/>
<rect x="302.0" y="59.0" width="0.9" height="0.9" fill="#222" opacity="0.3"/>
<rect x="304.5" y="60.9" width="0.9" height="0.9" fill="#222" opacity="0.3"/>
<rect x="299.6" y="59.3" width="0.9" height="0.9" fill="#222" opacity="0.3"/>
<rect x="302.6" y="56.8" width="0.9" height="0.9" fill="#222" opacity="0.3"/>
<rect x="303.2" y="57.3" width="0.9" height="0.9" fill="#222" opacity="0.3"/>
<rect x="305.2" y="60.0" width="0.9" height="0.9" fill="#222" opacity="0.3"/>
<rect x="302.8" y="58.0" width="0.9" height="0.9" fill="#222" opacity="0.3"/>
<rect x="302.2" y="54.3" width="0.9" height="0.9" fill="#222" opacity="0.3"/>
<rect x="299.3" y="60.4" width="0.9" height="0.9" fill="#222" opacity="0.3"/>
<rect x="296.5" y="61.7" width="0.9" height="0.9" fill="#222" opacity="0.3"/>
<rect x="297.6" y="61.5" width="0.9" height="0.9" fill="#222" opacity="0.3"/>
<rect x="300.1" y="61.5" width="0.9" height="0.9" fill="#222" opacity="0.3"/>
<rect x="302.9" y="55.5" width="0.9" height="0.9" fill="#222" opacity="0.3"/>
<rect x="306.0" y="63.2" width="0.9" height="0.9" fill="#222" opacity="0.3"/>
<rect x="302.3" y="58.8" width="0.9" height="0.9" fill="#222" opacity="0.3"/>
<rect x="302.1" y="57.0" width="0.9" height="0.9" fill="#222" opacity="0.3"/>
<rect x="305.6" y="58.1" width="0.9" height="0.9" fill="#222" opacity="0.3"/>
<rect x="302.4" y="57.4" width="0.9" height="0.9" fill="#222" opacity="0.3"/>
<rect x="300.7" y="56.2" width="0.9" height="0.9" fill="#222" opacity="0.3"/>
<rect x="306.0" y="59.1" width="0.9" height="0.9" fill="#222" opacity="0.3"/>
<rect x="305.2" y="59.5" width="0.9" height="0.9" fill="#222" opacity="0.3"/>
<rect x="300.6" y="58.7" width="0.9" height="0.9" fill="#222" opacity="0.3"/>
<rect x="300.9" y="59.5" width="0.9" height="0.9" fill="#222" opacity="0.3"/>
<rect x="301.4" y="58.7" width="0.9" height="0.9" fill="#222" opacity="0.3"/>
<rect x="298.6" y="57.4" width="0.9" height="0.9" fill="#222" opacity="0.3"/>
<rect x="307.1" y="57.8" width="0.9" height="0.9" fill="#222" opacity="0.3"/>
<rect x="299.5" y="60.4" width="0.9" height="0.9" fill="#222" opacity="0.3"/>
<rect x="306.4" y="55.7" width="0.9" height="0.9" fill="#222" opacity="0.3"/>
<rect x="301.9" y="57.9" width="0.9" height="0.9" fill="#222" opacity="0.3"/>
<rect x="297.6" y="61.4" width="0.9" height="0.9" fill="#222" opacity="0.3"/>
<rect x="302.4" y="59.7" width="0.9" height="0.9" fill="#222" opacity="0.3"/>
<rect x="300.4" y="60.7" width="0.9" height="0.9" fill="#222" opacity="0.3"/>
<rect x="301.0" y="59.1" width="0.9" height="0.9" fill="#222" opacity="0.3"/>
<rect x="299.4" y="56.3" width="0.9" height="0.9" fill="#222" opacity="0.3"/>
<rect x="306.2" y="58.2" width="0.9" height="0.9" fill="#222" opacity="0.3"/>
<rect x="303.3" y="59.4" width="0.9" height="0.9" fill="#222" opacity="0.3"/>
<rect x="301.3" y="58.2" width="0.9" height="0.9" fill="#222" opacity="0.3"/>
<rect x="304.3" y="58.7" width="0.9" height="0.9" fill="#222" opacity="0.3"/>
<rect x="302.1" y="59.6" width="0.9" height="0.9" fill="#222" opacity="0.3"/>
<rect x="305.8" y="61.3" width="0.9" height="0.9" fill="#222" opacity="0.3"/>
<rect x="303.6" y="58.0" width="0.9" height="0.9" fill="#222" opacity="0.3"/>
<rect x="298.6" y="62.0" width="0.9" height="0.9" fill="#222" opacity="0.3"/>
<rect x="305.2" y="59.1" width="0.9" height="0.9" fill="#222" opacity="0.3"/>
<rect x="304.0" y="61.5" width="0.9" height="0.9" fill="#222" opacity="0.3"/>
<rect x="304.8" y="61.9" width="0.9" height="0.9" fill="#222" opacity="0.3"/>
<rect x="301.2" y="63.4" width="0.9" height="0.9" fill="#222" opacity="0.3"/>
<rect x="299.0" y="61.7" width="0.9" height="0.9" fill="#222" opacity="0.3"/>
<rect x="303.9" y="61.8" width="0.9" height="0.9" fill="#222" opacity="0.3"/>
<rect x="307.8" y="63.4" width="0.9" height="0.9" fill="#222" opacity="0.3"/>
<rect x="299.3" y="55.1" width="0.9" height="0.9" fill="#222" opacity="0.3"/>
<rect x="304.8" y="56.9" width="0.9" height="0.9" fill="#222" opacity="0.3"/>
<rect x="302.5" y="61.7" width="0.9" height="0.9" fill="#222" opacity="0.3"/>
<rect x="297.9" y="54.0" width="0.9" height="0.9" fill="#222" opacity="0.3"/>
<rect x="303.2" y="59.6" width="0.9" height="0.9" fill="#222" opacity="0.3"/>
<rect x="301.8" y="59.6" width="0.9" height="0.9" fill="#222" opacity="0.3"/>
<rect x="300.1" y="55.6" width="0.9" height="0.9" fill="#222" opacity="0.3"/>
<rect x="302.0" y="57.0" width="0.9" height="0.9" fill="#222" opacity="0.3"/>
<rect x="297.9" y="60.8" width="0.9" height="0.9" fill="#222" opacity="0.3"/>
<rect x="302.3" y="60.6" width="0.9" height="0.9" fill="#222" opacity="0.3"/>
<rect x="299.7" y="57.8" width="0.9" height="0.9" fill="#222" opacity="0.3"/>
<rect x="299.7" y="57.2" width="0.9" height="0.9" fill="#222" opacity="0.3"/>
<rect x="303.0" y="57.5" width="0.9" height="0.9" fill="#222" opacity="0.3"/>
<rect x="303.5" y="60.4" width="0.9" height="0.9" fill="#222" opacity="0.3"/>
<rect x="308.2" y="55.9" width="0.9" height="0.9" fill="#222" opacity="0.3"/>
<rect x="305.0" y="59.3" width="0.9" height="0.9" fill="#222" opacity="0.3"/>
<rect x="302.5" y="55.7" width="0.9" height="0.9" fill="#222" opacity="0.3"/>
<ellipse cx="302.0" cy="59.5" rx="5.0" ry="4.6" transform="rotate(0 302.0 59.5)" fill="#777" opacity="0.45" filter="url(#bl15)"/>
<ellipse cx="304.8" cy="57.6" rx="2.4" ry="2.2" transform="rotate(0 304.8 57.6)" fill="#111" opacity="0.7" filter="url(#bl12)"/>
<line x1="308.50" y1="23.20" x2="308.50" y2="66.10" stroke="#3a3a3a" stroke-width="1.2" />
<line x1="295.90" y1="53.00" x2="342.30" y2="53.00" stroke="#3a3a3a" stroke-width="1.2" />
<text x="337.80" y="30.58" font-size="5.50" text-anchor="end" fill="#231f20" textLength="8.50" lengthAdjust="spacingAndGlyphs">0.1%</text>
<text x="291.60" y="25.71" font-size="4.20" text-anchor="end" fill="#333" textLength="4.67" lengthAdjust="spacingAndGlyphs">10</text>
<text x="291.80" y="23.56" font-size="2.40" text-anchor="start" fill="#333">5</text>
<text x="291.60" y="35.11" font-size="4.20" text-anchor="end" fill="#333" textLength="4.67" lengthAdjust="spacingAndGlyphs">10</text>
<text x="291.80" y="32.96" font-size="2.40" text-anchor="start" fill="#333">4</text>
<text x="291.60" y="43.31" font-size="4.20" text-anchor="end" fill="#333" textLength="4.67" lengthAdjust="spacingAndGlyphs">10</text>
<text x="291.80" y="41.16" font-size="2.40" text-anchor="start" fill="#333">3</text>
<text x="291.60" y="51.41" font-size="4.20" text-anchor="end" fill="#333" textLength="4.67" lengthAdjust="spacingAndGlyphs">10</text>
<text x="291.80" y="49.26" font-size="2.40" text-anchor="start" fill="#333">2</text>
<text x="291.60" y="59.61" font-size="4.20" text-anchor="end" fill="#333" textLength="4.67" lengthAdjust="spacingAndGlyphs">10</text>
<text x="291.80" y="57.46" font-size="2.40" text-anchor="start" fill="#333">1</text>
<text x="291.60" y="67.61" font-size="4.20" text-anchor="end" fill="#333" textLength="4.67" lengthAdjust="spacingAndGlyphs">10</text>
<text x="291.80" y="65.46" font-size="2.40" text-anchor="start" fill="#333">0</text>
<text x="293.00" y="72.81" font-size="4.20" text-anchor="middle" fill="#333" textLength="4.67" lengthAdjust="spacingAndGlyphs">10</text>
<text x="295.40" y="70.66" font-size="2.40" text-anchor="start" fill="#333" textLength="2.13" lengthAdjust="spacingAndGlyphs">-1</text>
<text x="305.20" y="72.81" font-size="4.20" text-anchor="middle" fill="#333" textLength="4.67" lengthAdjust="spacingAndGlyphs">10</text>
<text x="307.60" y="70.66" font-size="2.40" text-anchor="start" fill="#333">1</text>
<text x="312.80" y="72.81" font-size="4.20" text-anchor="middle" fill="#333" textLength="4.67" lengthAdjust="spacingAndGlyphs">10</text>
<text x="315.20" y="70.66" font-size="2.40" text-anchor="start" fill="#333">2</text>
<text x="322.80" y="72.81" font-size="4.20" text-anchor="middle" fill="#333" textLength="4.67" lengthAdjust="spacingAndGlyphs">10</text>
<text x="325.20" y="70.66" font-size="2.40" text-anchor="start" fill="#333">3</text>
<text x="330.10" y="72.81" font-size="4.20" text-anchor="middle" fill="#333" textLength="4.67" lengthAdjust="spacingAndGlyphs">10</text>
<text x="332.50" y="70.66" font-size="2.40" text-anchor="start" fill="#333">4</text>
<text x="340.60" y="72.81" font-size="4.20" text-anchor="middle" fill="#333" textLength="4.67" lengthAdjust="spacingAndGlyphs">10</text>
<text x="343.00" y="70.66" font-size="2.40" text-anchor="start" fill="#333">5</text>
<line x1="295.90" y1="23.20" x2="295.90" y2="66.10" stroke="#777" stroke-width="1.0" stroke-dasharray="0.8 0.5"/>
<line x1="295.90" y1="66.10" x2="342.30" y2="66.10" stroke="#777" stroke-width="1.0" stroke-dasharray="0.8 0.5"/>
<rect x="377.90" y="23.20" width="46.40" height="42.90" fill="none" stroke="#9a9a9a" stroke-width="0.8" />
<rect x="402.8" y="50.9" width="0.9" height="0.9" fill="#222" opacity="0.3"/>
<rect x="404.6" y="48.8" width="0.9" height="0.9" fill="#222" opacity="0.3"/>
<rect x="404.0" y="51.6" width="0.9" height="0.9" fill="#222" opacity="0.3"/>
<rect x="403.6" y="43.4" width="0.9" height="0.9" fill="#222" opacity="0.3"/>
<rect x="399.8" y="44.9" width="0.9" height="0.9" fill="#222" opacity="0.3"/>
<rect x="385.8" y="52.1" width="0.9" height="0.9" fill="#222" opacity="0.3"/>
<rect x="412.8" y="46.6" width="0.9" height="0.9" fill="#222" opacity="0.3"/>
<rect x="397.6" y="48.1" width="0.9" height="0.9" fill="#222" opacity="0.3"/>
<rect x="411.7" y="47.2" width="0.9" height="0.9" fill="#222" opacity="0.3"/>
<rect x="405.2" y="48.3" width="0.9" height="0.9" fill="#222" opacity="0.3"/>
<rect x="405.7" y="50.3" width="0.9" height="0.9" fill="#222" opacity="0.3"/>
<rect x="408.3" y="48.2" width="0.9" height="0.9" fill="#222" opacity="0.3"/>
<rect x="399.2" y="51.2" width="0.9" height="0.9" fill="#222" opacity="0.3"/>
<rect x="401.7" y="52.1" width="0.9" height="0.9" fill="#222" opacity="0.3"/>
<rect x="397.5" y="50.1" width="0.9" height="0.9" fill="#222" opacity="0.3"/>
<rect x="404.2" y="45.4" width="0.9" height="0.9" fill="#222" opacity="0.3"/>
<rect x="415.9" y="49.3" width="0.9" height="0.9" fill="#222" opacity="0.3"/>
<rect x="402.8" y="51.0" width="0.9" height="0.9" fill="#222" opacity="0.3"/>
<rect x="405.6" y="41.9" width="0.9" height="0.9" fill="#222" opacity="0.3"/>
<rect x="406.4" y="48.0" width="0.9" height="0.9" fill="#222" opacity="0.3"/>
<rect x="404.8" y="45.9" width="0.9" height="0.9" fill="#222" opacity="0.3"/>
<rect x="403.3" y="48.5" width="0.9" height="0.9" fill="#222" opacity="0.3"/>
<rect x="412.1" y="47.5" width="0.9" height="0.9" fill="#222" opacity="0.3"/>
<rect x="405.9" y="52.1" width="0.9" height="0.9" fill="#222" opacity="0.3"/>
<rect x="401.5" y="48.4" width="0.9" height="0.9" fill="#222" opacity="0.3"/>
<rect x="395.4" y="54.8" width="0.9" height="0.9" fill="#222" opacity="0.3"/>
<rect x="411.2" y="49.2" width="0.9" height="0.9" fill="#222" opacity="0.3"/>
<rect x="409.0" y="47.8" width="0.9" height="0.9" fill="#222" opacity="0.3"/>
<rect x="406.1" y="47.6" width="0.9" height="0.9" fill="#222" opacity="0.3"/>
<rect x="403.8" y="48.9" width="0.9" height="0.9" fill="#222" opacity="0.3"/>
<rect x="414.1" y="47.5" width="0.9" height="0.9" fill="#222" opacity="0.3"/>
<rect x="404.3" y="47.2" width="0.9" height="0.9" fill="#222" opacity="0.3"/>
<rect x="402.3" y="53.2" width="0.9" height="0.9" fill="#222" opacity="0.3"/>
<rect x="408.0" y="47.9" width="0.9" height="0.9" fill="#222" opacity="0.3"/>
<rect x="402.3" y="46.4" width="0.9" height="0.9" fill="#222" opacity="0.3"/>
<rect x="405.1" y="50.6" width="0.9" height="0.9" fill="#222" opacity="0.3"/>
<rect x="402.6" y="48.6" width="0.9" height="0.9" fill="#222" opacity="0.3"/>
<rect x="403.8" y="49.1" width="0.9" height="0.9" fill="#222" opacity="0.3"/>
<rect x="395.6" y="50.3" width="0.9" height="0.9" fill="#222" opacity="0.3"/>
<rect x="400.6" y="51.8" width="0.9" height="0.9" fill="#222" opacity="0.3"/>
<rect x="400.9" y="51.0" width="0.9" height="0.9" fill="#222" opacity="0.3"/>
<rect x="413.7" y="45.5" width="0.9" height="0.9" fill="#222" opacity="0.3"/>
<rect x="401.6" y="49.8" width="0.9" height="0.9" fill="#222" opacity="0.3"/>
<rect x="404.4" y="46.2" width="0.9" height="0.9" fill="#222" opacity="0.3"/>
<rect x="408.9" y="52.5" width="0.9" height="0.9" fill="#222" opacity="0.3"/>
<rect x="403.4" y="48.4" width="0.9" height="0.9" fill="#222" opacity="0.3"/>
<rect x="399.1" y="50.8" width="0.9" height="0.9" fill="#222" opacity="0.3"/>
<rect x="397.1" y="47.8" width="0.9" height="0.9" fill="#222" opacity="0.3"/>
<rect x="411.9" y="44.5" width="0.9" height="0.9" fill="#222" opacity="0.3"/>
<rect x="412.2" y="50.4" width="0.9" height="0.9" fill="#222" opacity="0.3"/>
<rect x="406.8" y="49.4" width="0.9" height="0.9" fill="#222" opacity="0.3"/>
<rect x="416.2" y="45.1" width="0.9" height="0.9" fill="#222" opacity="0.3"/>
<rect x="400.7" y="46.2" width="0.9" height="0.9" fill="#222" opacity="0.3"/>
<rect x="406.1" y="51.9" width="0.9" height="0.9" fill="#222" opacity="0.3"/>
<rect x="410.0" y="44.9" width="0.9" height="0.9" fill="#222" opacity="0.3"/>
<rect x="399.7" y="48.6" width="0.9" height="0.9" fill="#222" opacity="0.3"/>
<rect x="406.6" y="47.6" width="0.9" height="0.9" fill="#222" opacity="0.3"/>
<rect x="406.4" y="48.9" width="0.9" height="0.9" fill="#222" opacity="0.3"/>
<rect x="403.2" y="48.9" width="0.9" height="0.9" fill="#222" opacity="0.3"/>
<rect x="406.2" y="48.0" width="0.9" height="0.9" fill="#222" opacity="0.3"/>
<rect x="409.0" y="52.1" width="0.9" height="0.9" fill="#222" opacity="0.3"/>
<rect x="408.5" y="47.8" width="0.9" height="0.9" fill="#222" opacity="0.3"/>
<rect x="395.4" y="51.9" width="0.9" height="0.9" fill="#222" opacity="0.3"/>
<rect x="392.8" y="48.1" width="0.9" height="0.9" fill="#222" opacity="0.3"/>
<rect x="410.4" y="48.9" width="0.9" height="0.9" fill="#222" opacity="0.3"/>
<rect x="403.1" y="44.7" width="0.9" height="0.9" fill="#222" opacity="0.3"/>
<rect x="402.4" y="47.5" width="0.9" height="0.9" fill="#222" opacity="0.3"/>
<rect x="410.0" y="52.8" width="0.9" height="0.9" fill="#222" opacity="0.3"/>
<rect x="405.8" y="46.4" width="0.9" height="0.9" fill="#222" opacity="0.3"/>
<rect x="398.2" y="50.1" width="0.9" height="0.9" fill="#222" opacity="0.3"/>
<rect x="403.3" y="46.1" width="0.9" height="0.9" fill="#222" opacity="0.3"/>
<rect x="405.0" y="45.7" width="0.9" height="0.9" fill="#222" opacity="0.3"/>
<rect x="412.1" y="49.3" width="0.9" height="0.9" fill="#222" opacity="0.3"/>
<rect x="411.0" y="45.8" width="0.9" height="0.9" fill="#222" opacity="0.3"/>
<rect x="407.9" y="47.4" width="0.9" height="0.9" fill="#222" opacity="0.3"/>
<rect x="402.5" y="48.3" width="0.9" height="0.9" fill="#222" opacity="0.3"/>
<rect x="396.6" y="47.1" width="0.9" height="0.9" fill="#222" opacity="0.3"/>
<rect x="409.5" y="46.9" width="0.9" height="0.9" fill="#222" opacity="0.3"/>
<rect x="406.9" y="50.5" width="0.9" height="0.9" fill="#222" opacity="0.3"/>
<rect x="394.5" y="49.2" width="0.9" height="0.9" fill="#222" opacity="0.3"/>
<rect x="406.3" y="49.2" width="0.9" height="0.9" fill="#222" opacity="0.3"/>
<rect x="403.4" y="51.5" width="0.9" height="0.9" fill="#222" opacity="0.3"/>
<rect x="405.5" y="45.4" width="0.9" height="0.9" fill="#222" opacity="0.3"/>
<rect x="400.1" y="51.8" width="0.9" height="0.9" fill="#222" opacity="0.3"/>
<rect x="406.6" y="43.4" width="0.9" height="0.9" fill="#222" opacity="0.3"/>
<rect x="413.2" y="47.9" width="0.9" height="0.9" fill="#222" opacity="0.3"/>
<rect x="412.6" y="45.6" width="0.9" height="0.9" fill="#222" opacity="0.3"/>
<rect x="402.6" y="46.3" width="0.9" height="0.9" fill="#222" opacity="0.3"/>
<rect x="419.6" y="44.3" width="0.9" height="0.9" fill="#222" opacity="0.3"/>
<rect x="413.8" y="44.6" width="0.9" height="0.9" fill="#222" opacity="0.3"/>
<rect x="405.0" y="44.4" width="0.9" height="0.9" fill="#222" opacity="0.3"/>
<rect x="403.4" y="51.4" width="0.9" height="0.9" fill="#222" opacity="0.3"/>
<rect x="398.4" y="52.9" width="0.9" height="0.9" fill="#222" opacity="0.3"/>
<rect x="406.3" y="45.6" width="0.9" height="0.9" fill="#222" opacity="0.3"/>
<rect x="401.8" y="48.2" width="0.9" height="0.9" fill="#222" opacity="0.3"/>
<rect x="404.4" y="47.3" width="0.9" height="0.9" fill="#222" opacity="0.3"/>
<rect x="400.0" y="49.0" width="0.9" height="0.9" fill="#222" opacity="0.3"/>
<rect x="398.3" y="47.0" width="0.9" height="0.9" fill="#222" opacity="0.3"/>
<rect x="405.2" y="50.6" width="0.9" height="0.9" fill="#222" opacity="0.3"/>
<rect x="396.1" y="50.8" width="0.9" height="0.9" fill="#222" opacity="0.3"/>
<rect x="400.6" y="47.2" width="0.9" height="0.9" fill="#222" opacity="0.3"/>
<rect x="409.7" y="46.0" width="0.9" height="0.9" fill="#222" opacity="0.3"/>
<rect x="413.2" y="44.5" width="0.9" height="0.9" fill="#222" opacity="0.3"/>
<rect x="407.1" y="47.4" width="0.9" height="0.9" fill="#222" opacity="0.3"/>
<rect x="401.0" y="51.0" width="0.9" height="0.9" fill="#222" opacity="0.3"/>
<rect x="404.5" y="50.1" width="0.9" height="0.9" fill="#222" opacity="0.3"/>
<rect x="404.1" y="46.0" width="0.9" height="0.9" fill="#222" opacity="0.3"/>
<rect x="404.4" y="48.8" width="0.9" height="0.9" fill="#222" opacity="0.3"/>
<rect x="410.0" y="45.0" width="0.9" height="0.9" fill="#222" opacity="0.3"/>
<rect x="403.7" y="44.6" width="0.9" height="0.9" fill="#222" opacity="0.3"/>
<rect x="408.1" y="45.0" width="0.9" height="0.9" fill="#222" opacity="0.3"/>
<rect x="394.5" y="51.0" width="0.9" height="0.9" fill="#222" opacity="0.3"/>
<rect x="410.5" y="43.3" width="0.9" height="0.9" fill="#222" opacity="0.3"/>
<rect x="398.2" y="48.4" width="0.9" height="0.9" fill="#222" opacity="0.3"/>
<rect x="398.7" y="51.1" width="0.9" height="0.9" fill="#222" opacity="0.3"/>
<rect x="399.9" y="48.0" width="0.9" height="0.9" fill="#222" opacity="0.3"/>
<rect x="407.9" y="45.9" width="0.9" height="0.9" fill="#222" opacity="0.3"/>
<rect x="406.9" y="45.6" width="0.9" height="0.9" fill="#222" opacity="0.3"/>
<rect x="396.9" y="46.0" width="0.9" height="0.9" fill="#222" opacity="0.3"/>
<rect x="415.6" y="45.0" width="0.9" height="0.9" fill="#222" opacity="0.3"/>
<rect x="400.0" y="57.4" width="0.9" height="0.9" fill="#222" opacity="0.22"/>
<rect x="399.3" y="57.6" width="0.9" height="0.9" fill="#222" opacity="0.22"/>
<rect x="413.3" y="54.9" width="0.9" height="0.9" fill="#222" opacity="0.22"/>
<rect x="385.5" y="55.0" width="0.9" height="0.9" fill="#222" opacity="0.22"/>
<rect x="387.3" y="59.4" width="0.9" height="0.9" fill="#222" opacity="0.22"/>
<rect x="404.6" y="55.1" width="0.9" height="0.9" fill="#222" opacity="0.22"/>
<rect x="386.9" y="56.6" width="0.9" height="0.9" fill="#222" opacity="0.22"/>
<rect x="409.1" y="50.5" width="0.9" height="0.9" fill="#222" opacity="0.22"/>
<rect x="402.2" y="54.8" width="0.9" height="0.9" fill="#222" opacity="0.22"/>
<rect x="406.3" y="54.8" width="0.9" height="0.9" fill="#222" opacity="0.22"/>
<rect x="395.7" y="53.7" width="0.9" height="0.9" fill="#222" opacity="0.22"/>
<rect x="390.2" y="61.0" width="0.9" height="0.9" fill="#222" opacity="0.22"/>
<rect x="404.6" y="56.5" width="0.9" height="0.9" fill="#222" opacity="0.22"/>
<rect x="391.0" y="52.8" width="0.9" height="0.9" fill="#222" opacity="0.22"/>
<rect x="394.9" y="57.4" width="0.9" height="0.9" fill="#222" opacity="0.22"/>
<rect x="397.3" y="57.3" width="0.9" height="0.9" fill="#222" opacity="0.22"/>
<rect x="389.0" y="57.3" width="0.9" height="0.9" fill="#222" opacity="0.22"/>
<rect x="397.7" y="60.7" width="0.9" height="0.9" fill="#222" opacity="0.22"/>
<rect x="412.9" y="57.2" width="0.9" height="0.9" fill="#222" opacity="0.22"/>
<rect x="391.9" y="57.3" width="0.9" height="0.9" fill="#222" opacity="0.22"/>
<rect x="393.1" y="55.6" width="0.9" height="0.9" fill="#222" opacity="0.22"/>
<rect x="397.5" y="54.9" width="0.9" height="0.9" fill="#222" opacity="0.22"/>
<rect x="402.8" y="57.2" width="0.9" height="0.9" fill="#222" opacity="0.22"/>
<rect x="400.0" y="57.0" width="0.9" height="0.9" fill="#222" opacity="0.22"/>
<rect x="392.2" y="55.1" width="0.9" height="0.9" fill="#222" opacity="0.22"/>
<rect x="396.1" y="56.1" width="0.9" height="0.9" fill="#222" opacity="0.22"/>
<rect x="399.9" y="57.5" width="0.9" height="0.9" fill="#222" opacity="0.22"/>
<rect x="387.1" y="57.7" width="0.9" height="0.9" fill="#222" opacity="0.22"/>
<rect x="387.3" y="56.0" width="0.9" height="0.9" fill="#222" opacity="0.22"/>
<rect x="395.6" y="52.3" width="0.9" height="0.9" fill="#222" opacity="0.22"/>
<rect x="398.7" y="57.9" width="0.9" height="0.9" fill="#222" opacity="0.22"/>
<rect x="396.7" y="56.4" width="0.9" height="0.9" fill="#222" opacity="0.22"/>
<rect x="395.0" y="55.1" width="0.9" height="0.9" fill="#222" opacity="0.22"/>
<rect x="395.8" y="56.1" width="0.9" height="0.9" fill="#222" opacity="0.22"/>
<rect x="398.7" y="54.5" width="0.9" height="0.9" fill="#222" opacity="0.22"/>
<rect x="399.9" y="57.9" width="0.9" height="0.9" fill="#222" opacity="0.22"/>
<rect x="396.9" y="56.4" width="0.9" height="0.9" fill="#222" opacity="0.22"/>
<rect x="402.4" y="53.3" width="0.9" height="0.9" fill="#222" opacity="0.22"/>
<rect x="401.7" y="58.1" width="0.9" height="0.9" fill="#222" opacity="0.22"/>
<rect x="400.3" y="58.5" width="0.9" height="0.9" fill="#222" opacity="0.22"/>
<ellipse cx="405.5" cy="47.6" rx="10.5" ry="3.0" transform="rotate(-15 405.5 47.6)" fill="#777" opacity="0.45" filter="url(#bl15)"/>
<ellipse cx="409.0" cy="47.3" rx="2.6" ry="2.0" transform="rotate(0 409.0 47.3)" fill="#111" opacity="0.75" filter="url(#bl12)"/>
<line x1="391.50" y1="23.20" x2="391.50" y2="66.10" stroke="#3a3a3a" stroke-width="1.2" />
<line x1="377.90" y1="52.80" x2="424.30" y2="52.80" stroke="#3a3a3a" stroke-width="1.2" />
<text x="419.80" y="30.58" font-size="5.50" text-anchor="end" fill="#231f20" textLength="10.50" lengthAdjust="spacingAndGlyphs">95.7%</text>
<text x="373.60" y="25.71" font-size="4.20" text-anchor="end" fill="#333" textLength="4.67" lengthAdjust="spacingAndGlyphs">10</text>
<text x="373.80" y="23.56" font-size="2.40" text-anchor="start" fill="#333">5</text>
<text x="373.60" y="35.11" font-size="4.20" text-anchor="end" fill="#333" textLength="4.67" lengthAdjust="spacingAndGlyphs">10</text>
<text x="373.80" y="32.96" font-size="2.40" text-anchor="start" fill="#333">4</text>
<text x="373.60" y="43.31" font-size="4.20" text-anchor="end" fill="#333" textLength="4.67" lengthAdjust="spacingAndGlyphs">10</text>
<text x="373.80" y="41.16" font-size="2.40" text-anchor="start" fill="#333">3</text>
<text x="373.60" y="51.41" font-size="4.20" text-anchor="end" fill="#333" textLength="4.67" lengthAdjust="spacingAndGlyphs">10</text>
<text x="373.80" y="49.26" font-size="2.40" text-anchor="start" fill="#333">2</text>
<text x="373.60" y="59.61" font-size="4.20" text-anchor="end" fill="#333" textLength="4.67" lengthAdjust="spacingAndGlyphs">10</text>
<text x="373.80" y="57.46" font-size="2.40" text-anchor="start" fill="#333">1</text>
<text x="373.60" y="67.61" font-size="4.20" text-anchor="end" fill="#333" textLength="4.67" lengthAdjust="spacingAndGlyphs">10</text>
<text x="373.80" y="65.46" font-size="2.40" text-anchor="start" fill="#333">0</text>
<text x="375.00" y="72.81" font-size="4.20" text-anchor="middle" fill="#333" textLength="4.67" lengthAdjust="spacingAndGlyphs">10</text>
<text x="377.40" y="70.66" font-size="2.40" text-anchor="start" fill="#333" textLength="2.13" lengthAdjust="spacingAndGlyphs">-1</text>
<text x="387.20" y="72.81" font-size="4.20" text-anchor="middle" fill="#333" textLength="4.67" lengthAdjust="spacingAndGlyphs">10</text>
<text x="389.60" y="70.66" font-size="2.40" text-anchor="start" fill="#333">1</text>
<text x="394.80" y="72.81" font-size="4.20" text-anchor="middle" fill="#333" textLength="4.67" lengthAdjust="spacingAndGlyphs">10</text>
<text x="397.20" y="70.66" font-size="2.40" text-anchor="start" fill="#333">2</text>
<text x="404.80" y="72.81" font-size="4.20" text-anchor="middle" fill="#333" textLength="4.67" lengthAdjust="spacingAndGlyphs">10</text>
<text x="407.20" y="70.66" font-size="2.40" text-anchor="start" fill="#333">3</text>
<text x="412.10" y="72.81" font-size="4.20" text-anchor="middle" fill="#333" textLength="4.67" lengthAdjust="spacingAndGlyphs">10</text>
<text x="414.50" y="70.66" font-size="2.40" text-anchor="start" fill="#333">4</text>
<text x="422.60" y="72.81" font-size="4.20" text-anchor="middle" fill="#333" textLength="4.67" lengthAdjust="spacingAndGlyphs">10</text>
<text x="425.00" y="70.66" font-size="2.40" text-anchor="start" fill="#333">5</text>
<line x1="377.90" y1="23.20" x2="377.90" y2="66.10" stroke="#777" stroke-width="1.0" stroke-dasharray="0.8 0.5"/>
<line x1="377.90" y1="66.10" x2="424.30" y2="66.10" stroke="#777" stroke-width="1.0" stroke-dasharray="0.8 0.5"/>
<rect x="458.90" y="23.20" width="46.40" height="42.90" fill="none" stroke="#9a9a9a" stroke-width="0.8" />
<rect x="473.4" y="48.1" width="0.9" height="0.9" fill="#222" opacity="0.3"/>
<rect x="482.5" y="48.8" width="0.9" height="0.9" fill="#222" opacity="0.3"/>
<rect x="479.2" y="45.2" width="0.9" height="0.9" fill="#222" opacity="0.3"/>
<rect x="481.9" y="50.3" width="0.9" height="0.9" fill="#222" opacity="0.3"/>
<rect x="485.1" y="48.2" width="0.9" height="0.9" fill="#222" opacity="0.3"/>
<rect x="467.3" y="51.1" width="0.9" height="0.9" fill="#222" opacity="0.3"/>
<rect x="476.6" y="43.3" width="0.9" height="0.9" fill="#222" opacity="0.3"/>
<rect x="480.4" y="45.1" width="0.9" height="0.9" fill="#222" opacity="0.3"/>
<rect x="468.9" y="47.8" width="0.9" height="0.9" fill="#222" opacity="0.3"/>
<rect x="486.8" y="46.8" width="0.9" height="0.9" fill="#222" opacity="0.3"/>
<rect x="480.2" y="51.6" width="0.9" height="0.9" fill="#222" opacity="0.3"/>
<rect x="489.1" y="47.2" width="0.9" height="0.9" fill="#222" opacity="0.3"/>
<rect x="476.1" y="45.9" width="0.9" height="0.9" fill="#222" opacity="0.3"/>
<rect x="473.2" y="49.5" width="0.9" height="0.9" fill="#222" opacity="0.3"/>
<rect x="480.8" y="48.3" width="0.9" height="0.9" fill="#222" opacity="0.3"/>
<rect x="484.8" y="46.2" width="0.9" height="0.9" fill="#222" opacity="0.3"/>
<rect x="477.7" y="49.8" width="0.9" height="0.9" fill="#222" opacity="0.3"/>
<rect x="482.2" y="50.1" width="0.9" height="0.9" fill="#222" opacity="0.3"/>
<rect x="480.7" y="47.5" width="0.9" height="0.9" fill="#222" opacity="0.3"/>
<rect x="480.4" y="46.1" width="0.9" height="0.9" fill="#222" opacity="0.3"/>
<rect x="466.7" y="50.4" width="0.9" height="0.9" fill="#222" opacity="0.3"/>
<rect x="477.7" y="48.9" width="0.9" height="0.9" fill="#222" opacity="0.3"/>
<rect x="466.1" y="48.5" width="0.9" height="0.9" fill="#222" opacity="0.3"/>
<rect x="473.7" y="46.9" width="0.9" height="0.9" fill="#222" opacity="0.3"/>
<rect x="462.2" y="48.9" width="0.9" height="0.9" fill="#222" opacity="0.3"/>
<rect x="484.3" y="48.6" width="0.9" height="0.9" fill="#222" opacity="0.3"/>
<rect x="473.8" y="48.6" width="0.9" height="0.9" fill="#222" opacity="0.3"/>
<rect x="482.8" y="42.4" width="0.9" height="0.9" fill="#222" opacity="0.3"/>
<rect x="477.2" y="49.5" width="0.9" height="0.9" fill="#222" opacity="0.3"/>
<rect x="483.0" y="51.3" width="0.9" height="0.9" fill="#222" opacity="0.3"/>
<rect x="486.0" y="48.3" width="0.9" height="0.9" fill="#222" opacity="0.3"/>
<rect x="480.2" y="49.7" width="0.9" height="0.9" fill="#222" opacity="0.3"/>
<rect x="474.2" y="48.5" width="0.9" height="0.9" fill="#222" opacity="0.3"/>
<rect x="484.6" y="51.7" width="0.9" height="0.9" fill="#222" opacity="0.3"/>
<rect x="476.9" y="48.3" width="0.9" height="0.9" fill="#222" opacity="0.3"/>
<rect x="479.6" y="50.9" width="0.9" height="0.9" fill="#222" opacity="0.3"/>
<rect x="478.0" y="51.2" width="0.9" height="0.9" fill="#222" opacity="0.3"/>
<rect x="471.2" y="48.5" width="0.9" height="0.9" fill="#222" opacity="0.3"/>
<rect x="476.7" y="50.0" width="0.9" height="0.9" fill="#222" opacity="0.3"/>
<rect x="485.1" y="44.7" width="0.9" height="0.9" fill="#222" opacity="0.3"/>
<rect x="471.7" y="49.5" width="0.9" height="0.9" fill="#222" opacity="0.3"/>
<rect x="473.2" y="45.6" width="0.9" height="0.9" fill="#222" opacity="0.3"/>
<rect x="485.3" y="48.7" width="0.9" height="0.9" fill="#222" opacity="0.3"/>
<rect x="481.4" y="47.1" width="0.9" height="0.9" fill="#222" opacity="0.3"/>
<rect x="485.1" y="47.2" width="0.9" height="0.9" fill="#222" opacity="0.3"/>
<rect x="485.5" y="45.9" width="0.9" height="0.9" fill="#222" opacity="0.3"/>
<rect x="472.1" y="49.2" width="0.9" height="0.9" fill="#222" opacity="0.3"/>
<rect x="473.2" y="50.0" width="0.9" height="0.9" fill="#222" opacity="0.3"/>
<rect x="479.7" y="46.3" width="0.9" height="0.9" fill="#222" opacity="0.3"/>
<rect x="478.5" y="47.6" width="0.9" height="0.9" fill="#222" opacity="0.3"/>
<rect x="484.3" y="46.5" width="0.9" height="0.9" fill="#222" opacity="0.3"/>
<rect x="475.1" y="51.0" width="0.9" height="0.9" fill="#222" opacity="0.3"/>
<rect x="493.9" y="51.0" width="0.9" height="0.9" fill="#222" opacity="0.3"/>
<rect x="478.5" y="48.7" width="0.9" height="0.9" fill="#222" opacity="0.3"/>
<rect x="488.7" y="47.2" width="0.9" height="0.9" fill="#222" opacity="0.3"/>
<rect x="471.2" y="49.1" width="0.9" height="0.9" fill="#222" opacity="0.3"/>
<rect x="481.0" y="46.4" width="0.9" height="0.9" fill="#222" opacity="0.3"/>
<rect x="466.3" y="46.4" width="0.9" height="0.9" fill="#222" opacity="0.3"/>
<rect x="482.5" y="46.4" width="0.9" height="0.9" fill="#222" opacity="0.3"/>
<rect x="477.0" y="48.8" width="0.9" height="0.9" fill="#222" opacity="0.3"/>
<rect x="482.3" y="47.3" width="0.9" height="0.9" fill="#222" opacity="0.3"/>
<rect x="481.3" y="46.2" width="0.9" height="0.9" fill="#222" opacity="0.3"/>
<rect x="475.3" y="46.5" width="0.9" height="0.9" fill="#222" opacity="0.3"/>
<rect x="485.9" y="47.6" width="0.9" height="0.9" fill="#222" opacity="0.3"/>
<rect x="472.8" y="48.0" width="0.9" height="0.9" fill="#222" opacity="0.3"/>
<rect x="476.6" y="49.8" width="0.9" height="0.9" fill="#222" opacity="0.3"/>
<rect x="466.7" y="47.1" width="0.9" height="0.9" fill="#222" opacity="0.3"/>
<rect x="475.8" y="53.6" width="0.9" height="0.9" fill="#222" opacity="0.3"/>
<rect x="484.7" y="47.5" width="0.9" height="0.9" fill="#222" opacity="0.3"/>
<rect x="483.3" y="52.0" width="0.9" height="0.9" fill="#222" opacity="0.3"/>
<rect x="476.3" y="47.7" width="0.9" height="0.9" fill="#222" opacity="0.3"/>
<rect x="486.5" y="48.6" width="0.9" height="0.9" fill="#222" opacity="0.3"/>
<rect x="482.6" y="46.9" width="0.9" height="0.9" fill="#222" opacity="0.3"/>
<rect x="491.7" y="50.6" width="0.9" height="0.9" fill="#222" opacity="0.3"/>
<rect x="482.1" y="49.3" width="0.9" height="0.9" fill="#222" opacity="0.3"/>
<rect x="464.0" y="50.7" width="0.9" height="0.9" fill="#222" opacity="0.3"/>
<rect x="476.7" y="49.3" width="0.9" height="0.9" fill="#222" opacity="0.3"/>
<rect x="482.7" y="47.2" width="0.9" height="0.9" fill="#222" opacity="0.3"/>
<rect x="466.3" y="50.0" width="0.9" height="0.9" fill="#222" opacity="0.3"/>
<rect x="472.8" y="48.1" width="0.9" height="0.9" fill="#222" opacity="0.3"/>
<rect x="473.7" y="48.0" width="0.9" height="0.9" fill="#222" opacity="0.3"/>
<rect x="462.1" y="52.0" width="0.9" height="0.9" fill="#222" opacity="0.3"/>
<rect x="479.9" y="50.4" width="0.9" height="0.9" fill="#222" opacity="0.3"/>
<rect x="491.8" y="47.2" width="0.9" height="0.9" fill="#222" opacity="0.3"/>
<rect x="465.3" y="47.5" width="0.9" height="0.9" fill="#222" opacity="0.3"/>
<rect x="469.5" y="48.0" width="0.9" height="0.9" fill="#222" opacity="0.3"/>
<rect x="478.2" y="44.3" width="0.9" height="0.9" fill="#222" opacity="0.3"/>
<rect x="480.1" y="45.1" width="0.9" height="0.9" fill="#222" opacity="0.3"/>
<rect x="480.1" y="47.9" width="0.9" height="0.9" fill="#222" opacity="0.3"/>
<rect x="475.8" y="48.3" width="0.9" height="0.9" fill="#222" opacity="0.3"/>
<rect x="474.1" y="47.4" width="0.9" height="0.9" fill="#222" opacity="0.3"/>
<rect x="466.3" y="49.2" width="0.9" height="0.9" fill="#222" opacity="0.3"/>
<rect x="491.2" y="51.2" width="0.9" height="0.9" fill="#222" opacity="0.3"/>
<rect x="487.3" y="49.0" width="0.9" height="0.9" fill="#222" opacity="0.3"/>
<rect x="473.5" y="51.6" width="0.9" height="0.9" fill="#222" opacity="0.3"/>
<rect x="477.6" y="48.2" width="0.9" height="0.9" fill="#222" opacity="0.3"/>
<rect x="476.0" y="48.6" width="0.9" height="0.9" fill="#222" opacity="0.3"/>
<rect x="474.9" y="48.4" width="0.9" height="0.9" fill="#222" opacity="0.3"/>
<rect x="470.4" y="48.2" width="0.9" height="0.9" fill="#222" opacity="0.3"/>
<rect x="493.9" y="46.9" width="0.9" height="0.9" fill="#222" opacity="0.3"/>
<rect x="476.4" y="49.5" width="0.9" height="0.9" fill="#222" opacity="0.3"/>
<rect x="482.8" y="45.7" width="0.9" height="0.9" fill="#222" opacity="0.3"/>
<rect x="476.7" y="50.2" width="0.9" height="0.9" fill="#222" opacity="0.3"/>
<rect x="479.9" y="48.4" width="0.9" height="0.9" fill="#222" opacity="0.3"/>
<rect x="488.7" y="46.1" width="0.9" height="0.9" fill="#222" opacity="0.3"/>
<rect x="478.5" y="47.2" width="0.9" height="0.9" fill="#222" opacity="0.3"/>
<rect x="488.1" y="43.6" width="0.9" height="0.9" fill="#222" opacity="0.3"/>
<rect x="473.2" y="47.6" width="0.9" height="0.9" fill="#222" opacity="0.3"/>
<rect x="482.7" y="49.1" width="0.9" height="0.9" fill="#222" opacity="0.3"/>
<rect x="487.5" y="44.4" width="0.9" height="0.9" fill="#222" opacity="0.3"/>
<rect x="483.2" y="47.3" width="0.9" height="0.9" fill="#222" opacity="0.3"/>
<rect x="473.4" y="49.7" width="0.9" height="0.9" fill="#222" opacity="0.3"/>
<rect x="471.2" y="44.7" width="0.9" height="0.9" fill="#222" opacity="0.3"/>
<rect x="475.2" y="45.5" width="0.9" height="0.9" fill="#222" opacity="0.3"/>
<rect x="473.5" y="49.4" width="0.9" height="0.9" fill="#222" opacity="0.3"/>
<rect x="480.4" y="51.3" width="0.9" height="0.9" fill="#222" opacity="0.3"/>
<rect x="476.4" y="45.4" width="0.9" height="0.9" fill="#222" opacity="0.3"/>
<rect x="472.6" y="46.9" width="0.9" height="0.9" fill="#222" opacity="0.3"/>
<rect x="469.6" y="49.8" width="0.9" height="0.9" fill="#222" opacity="0.3"/>
<rect x="473.2" y="44.7" width="0.9" height="0.9" fill="#222" opacity="0.3"/>
<rect x="482.8" y="47.7" width="0.9" height="0.9" fill="#222" opacity="0.3"/>
<rect x="480.5" y="48.3" width="0.9" height="0.9" fill="#222" opacity="0.3"/>
<rect x="482.4" y="48.0" width="0.9" height="0.9" fill="#222" opacity="0.3"/>
<rect x="486.7" y="48.5" width="0.9" height="0.9" fill="#222" opacity="0.3"/>
<rect x="480.8" y="48.9" width="0.9" height="0.9" fill="#222" opacity="0.3"/>
<rect x="467.8" y="48.8" width="0.9" height="0.9" fill="#222" opacity="0.3"/>
<rect x="476.2" y="48.9" width="0.9" height="0.9" fill="#222" opacity="0.3"/>
<rect x="468.8" y="52.3" width="0.9" height="0.9" fill="#222" opacity="0.3"/>
<rect x="478.5" y="45.8" width="0.9" height="0.9" fill="#222" opacity="0.3"/>
<rect x="466.0" y="48.7" width="0.9" height="0.9" fill="#222" opacity="0.3"/>
<rect x="477.3" y="46.9" width="0.9" height="0.9" fill="#222" opacity="0.3"/>
<rect x="478.5" y="47.0" width="0.9" height="0.9" fill="#222" opacity="0.3"/>
<rect x="481.7" y="46.5" width="0.9" height="0.9" fill="#222" opacity="0.3"/>
<rect x="477.9" y="50.3" width="0.9" height="0.9" fill="#222" opacity="0.3"/>
<rect x="495.8" y="44.9" width="0.9" height="0.9" fill="#222" opacity="0.3"/>
<rect x="474.6" y="46.9" width="0.9" height="0.9" fill="#222" opacity="0.3"/>
<rect x="483.3" y="45.6" width="0.9" height="0.9" fill="#222" opacity="0.3"/>
<rect x="474.6" y="48.5" width="0.9" height="0.9" fill="#222" opacity="0.3"/>
<rect x="471.0" y="46.9" width="0.9" height="0.9" fill="#222" opacity="0.3"/>
<rect x="474.3" y="44.4" width="0.9" height="0.9" fill="#222" opacity="0.3"/>
<rect x="467.8" y="48.3" width="0.9" height="0.9" fill="#222" opacity="0.3"/>
<rect x="479.0" y="47.8" width="0.9" height="0.9" fill="#222" opacity="0.3"/>
<rect x="465.5" y="48.4" width="0.9" height="0.9" fill="#222" opacity="0.3"/>
<rect x="483.7" y="49.0" width="0.9" height="0.9" fill="#222" opacity="0.3"/>
<rect x="477.3" y="46.6" width="0.9" height="0.9" fill="#222" opacity="0.3"/>
<rect x="482.3" y="46.8" width="0.9" height="0.9" fill="#222" opacity="0.3"/>
<rect x="469.7" y="47.4" width="0.9" height="0.9" fill="#222" opacity="0.3"/>
<rect x="488.1" y="47.9" width="0.9" height="0.9" fill="#222" opacity="0.3"/>
<rect x="486.0" y="46.7" width="0.9" height="0.9" fill="#222" opacity="0.3"/>
<rect x="484.4" y="46.6" width="0.9" height="0.9" fill="#222" opacity="0.3"/>
<rect x="481.2" y="63.2" width="0.9" height="0.9" fill="#222" opacity="0.22"/>
<rect x="485.8" y="55.7" width="0.9" height="0.9" fill="#222" opacity="0.22"/>
<rect x="481.6" y="57.8" width="0.9" height="0.9" fill="#222" opacity="0.22"/>
<rect x="488.1" y="55.8" width="0.9" height="0.9" fill="#222" opacity="0.22"/>
<rect x="473.3" y="56.3" width="0.9" height="0.9" fill="#222" opacity="0.22"/>
<rect x="482.1" y="57.3" width="0.9" height="0.9" fill="#222" opacity="0.22"/>
<rect x="488.6" y="57.8" width="0.9" height="0.9" fill="#222" opacity="0.22"/>
<rect x="486.1" y="54.2" width="0.9" height="0.9" fill="#222" opacity="0.22"/>
<rect x="486.3" y="62.2" width="0.9" height="0.9" fill="#222" opacity="0.22"/>
<rect x="485.9" y="57.6" width="0.9" height="0.9" fill="#222" opacity="0.22"/>
<rect x="482.8" y="61.5" width="0.9" height="0.9" fill="#222" opacity="0.22"/>
<rect x="477.4" y="56.7" width="0.9" height="0.9" fill="#222" opacity="0.22"/>
<rect x="484.3" y="58.9" width="0.9" height="0.9" fill="#222" opacity="0.22"/>
<rect x="479.8" y="57.8" width="0.9" height="0.9" fill="#222" opacity="0.22"/>
<rect x="480.6" y="57.3" width="0.9" height="0.9" fill="#222" opacity="0.22"/>
<rect x="481.3" y="54.1" width="0.9" height="0.9" fill="#222" opacity="0.22"/>
<rect x="481.9" y="59.2" width="0.9" height="0.9" fill="#222" opacity="0.22"/>
<rect x="477.2" y="56.4" width="0.9" height="0.9" fill="#222" opacity="0.22"/>
<rect x="485.3" y="54.3" width="0.9" height="0.9" fill="#222" opacity="0.22"/>
<rect x="482.9" y="54.3" width="0.9" height="0.9" fill="#222" opacity="0.22"/>
<rect x="487.7" y="62.8" width="0.9" height="0.9" fill="#222" opacity="0.22"/>
<rect x="492.1" y="56.5" width="0.9" height="0.9" fill="#222" opacity="0.22"/>
<rect x="485.7" y="57.3" width="0.9" height="0.9" fill="#222" opacity="0.22"/>
<rect x="482.5" y="60.9" width="0.9" height="0.9" fill="#222" opacity="0.22"/>
<rect x="475.4" y="59.6" width="0.9" height="0.9" fill="#222" opacity="0.22"/>
<ellipse cx="477.5" cy="48.3" rx="13.5" ry="3.0" transform="rotate(-4 477.5 48.3)" fill="#777" opacity="0.5" filter="url(#bl15)"/>
<ellipse cx="482.5" cy="48.4" rx="3.8" ry="2.0" transform="rotate(0 482.5 48.4)" fill="#111" opacity="0.7" filter="url(#bl12)"/>
<line x1="472.10" y1="23.20" x2="472.10" y2="66.10" stroke="#3a3a3a" stroke-width="1.2" />
<line x1="458.90" y1="52.80" x2="505.30" y2="52.80" stroke="#3a3a3a" stroke-width="1.2" />
<text x="500.80" y="30.58" font-size="5.50" text-anchor="end" fill="#231f20" textLength="10.50" lengthAdjust="spacingAndGlyphs">83.7%</text>
<text x="454.60" y="25.71" font-size="4.20" text-anchor="end" fill="#333" textLength="4.67" lengthAdjust="spacingAndGlyphs">10</text>
<text x="454.80" y="23.56" font-size="2.40" text-anchor="start" fill="#333">5</text>
<text x="454.60" y="35.11" font-size="4.20" text-anchor="end" fill="#333" textLength="4.67" lengthAdjust="spacingAndGlyphs">10</text>
<text x="454.80" y="32.96" font-size="2.40" text-anchor="start" fill="#333">4</text>
<text x="454.60" y="43.31" font-size="4.20" text-anchor="end" fill="#333" textLength="4.67" lengthAdjust="spacingAndGlyphs">10</text>
<text x="454.80" y="41.16" font-size="2.40" text-anchor="start" fill="#333">3</text>
<text x="454.60" y="51.41" font-size="4.20" text-anchor="end" fill="#333" textLength="4.67" lengthAdjust="spacingAndGlyphs">10</text>
<text x="454.80" y="49.26" font-size="2.40" text-anchor="start" fill="#333">2</text>
<text x="454.60" y="59.61" font-size="4.20" text-anchor="end" fill="#333" textLength="4.67" lengthAdjust="spacingAndGlyphs">10</text>
<text x="454.80" y="57.46" font-size="2.40" text-anchor="start" fill="#333">1</text>
<text x="454.60" y="67.61" font-size="4.20" text-anchor="end" fill="#333" textLength="4.67" lengthAdjust="spacingAndGlyphs">10</text>
<text x="454.80" y="65.46" font-size="2.40" text-anchor="start" fill="#333">0</text>
<text x="456.00" y="72.81" font-size="4.20" text-anchor="middle" fill="#333" textLength="4.67" lengthAdjust="spacingAndGlyphs">10</text>
<text x="458.40" y="70.66" font-size="2.40" text-anchor="start" fill="#333" textLength="2.13" lengthAdjust="spacingAndGlyphs">-1</text>
<text x="468.20" y="72.81" font-size="4.20" text-anchor="middle" fill="#333" textLength="4.67" lengthAdjust="spacingAndGlyphs">10</text>
<text x="470.60" y="70.66" font-size="2.40" text-anchor="start" fill="#333">1</text>
<text x="475.80" y="72.81" font-size="4.20" text-anchor="middle" fill="#333" textLength="4.67" lengthAdjust="spacingAndGlyphs">10</text>
<text x="478.20" y="70.66" font-size="2.40" text-anchor="start" fill="#333">2</text>
<text x="485.80" y="72.81" font-size="4.20" text-anchor="middle" fill="#333" textLength="4.67" lengthAdjust="spacingAndGlyphs">10</text>
<text x="488.20" y="70.66" font-size="2.40" text-anchor="start" fill="#333">3</text>
<text x="493.10" y="72.81" font-size="4.20" text-anchor="middle" fill="#333" textLength="4.67" lengthAdjust="spacingAndGlyphs">10</text>
<text x="495.50" y="70.66" font-size="2.40" text-anchor="start" fill="#333">4</text>
<text x="503.60" y="72.81" font-size="4.20" text-anchor="middle" fill="#333" textLength="4.67" lengthAdjust="spacingAndGlyphs">10</text>
<text x="506.00" y="70.66" font-size="2.40" text-anchor="start" fill="#333">5</text>
<line x1="458.90" y1="23.20" x2="458.90" y2="66.10" stroke="#777" stroke-width="1.0" stroke-dasharray="0.8 0.5"/>
<line x1="458.90" y1="66.10" x2="505.30" y2="66.10" stroke="#777" stroke-width="1.0" stroke-dasharray="0.8 0.5"/>
<rect x="295.90" y="83.70" width="46.40" height="42.90" fill="none" stroke="#9a9a9a" stroke-width="0.8" />
<rect x="300.9" y="124.4" width="0.9" height="0.9" fill="#222" opacity="0.3"/>
<rect x="301.6" y="118.6" width="0.9" height="0.9" fill="#222" opacity="0.3"/>
<rect x="301.8" y="122.6" width="0.9" height="0.9" fill="#222" opacity="0.3"/>
<rect x="301.1" y="121.9" width="0.9" height="0.9" fill="#222" opacity="0.3"/>
<rect x="299.4" y="114.5" width="0.9" height="0.9" fill="#222" opacity="0.3"/>
<rect x="303.7" y="122.5" width="0.9" height="0.9" fill="#222" opacity="0.3"/>
<rect x="301.4" y="120.7" width="0.9" height="0.9" fill="#222" opacity="0.3"/>
<rect x="304.1" y="119.2" width="0.9" height="0.9" fill="#222" opacity="0.3"/>
<rect x="298.9" y="120.0" width="0.9" height="0.9" fill="#222" opacity="0.3"/>
<rect x="304.6" y="116.6" width="0.9" height="0.9" fill="#222" opacity="0.3"/>
<rect x="304.6" y="118.7" width="0.9" height="0.9" fill="#222" opacity="0.3"/>
<rect x="297.7" y="124.0" width="0.9" height="0.9" fill="#222" opacity="0.3"/>
<rect x="300.7" y="116.9" width="0.9" height="0.9" fill="#222" opacity="0.3"/>
<rect x="299.9" y="123.1" width="0.9" height="0.9" fill="#222" opacity="0.3"/>
<rect x="304.6" y="119.3" width="0.9" height="0.9" fill="#222" opacity="0.3"/>
<rect x="302.2" y="122.5" width="0.9" height="0.9" fill="#222" opacity="0.3"/>
<rect x="299.1" y="121.5" width="0.9" height="0.9" fill="#222" opacity="0.3"/>
<rect x="300.9" y="119.0" width="0.9" height="0.9" fill="#222" opacity="0.3"/>
<rect x="299.5" y="120.7" width="0.9" height="0.9" fill="#222" opacity="0.3"/>
<rect x="301.1" y="118.9" width="0.9" height="0.9" fill="#222" opacity="0.3"/>
<rect x="299.7" y="123.6" width="0.9" height="0.9" fill="#222" opacity="0.3"/>
<rect x="301.6" y="123.0" width="0.9" height="0.9" fill="#222" opacity="0.3"/>
<rect x="304.6" y="122.1" width="0.9" height="0.9" fill="#222" opacity="0.3"/>
<rect x="307.8" y="118.2" width="0.9" height="0.9" fill="#222" opacity="0.3"/>
<rect x="303.4" y="119.6" width="0.9" height="0.9" fill="#222" opacity="0.3"/>
<rect x="306.6" y="125.3" width="0.9" height="0.9" fill="#222" opacity="0.3"/>
<rect x="303.0" y="122.7" width="0.9" height="0.9" fill="#222" opacity="0.3"/>
<rect x="303.2" y="120.3" width="0.9" height="0.9" fill="#222" opacity="0.3"/>
<rect x="302.4" y="122.3" width="0.9" height="0.9" fill="#222" opacity="0.3"/>
<rect x="300.8" y="123.4" width="0.9" height="0.9" fill="#222" opacity="0.3"/>
<rect x="297.9" y="123.2" width="0.9" height="0.9" fill="#222" opacity="0.3"/>
<rect x="300.3" y="118.0" width="0.9" height="0.9" fill="#222" opacity="0.3"/>
<rect x="302.1" y="117.9" width="0.9" height="0.9" fill="#222" opacity="0.3"/>
<rect x="298.3" y="116.1" width="0.9" height="0.9" fill="#222" opacity="0.3"/>
<rect x="300.9" y="121.9" width="0.9" height="0.9" fill="#222" opacity="0.3"/>
<rect x="304.1" y="120.1" width="0.9" height="0.9" fill="#222" opacity="0.3"/>
<rect x="304.1" y="120.6" width="0.9" height="0.9" fill="#222" opacity="0.3"/>
<rect x="300.7" y="122.1" width="0.9" height="0.9" fill="#222" opacity="0.3"/>
<rect x="304.2" y="119.5" width="0.9" height="0.9" fill="#222" opacity="0.3"/>
<rect x="300.3" y="120.0" width="0.9" height="0.9" fill="#222" opacity="0.3"/>
<rect x="301.2" y="118.0" width="0.9" height="0.9" fill="#222" opacity="0.3"/>
<rect x="304.1" y="119.4" width="0.9" height="0.9" fill="#222" opacity="0.3"/>
<rect x="302.4" y="118.2" width="0.9" height="0.9" fill="#222" opacity="0.3"/>
<rect x="302.1" y="121.6" width="0.9" height="0.9" fill="#222" opacity="0.3"/>
<rect x="302.1" y="125.5" width="0.9" height="0.9" fill="#222" opacity="0.3"/>
<rect x="303.9" y="118.6" width="0.9" height="0.9" fill="#222" opacity="0.3"/>
<rect x="299.9" y="121.7" width="0.9" height="0.9" fill="#222" opacity="0.3"/>
<rect x="301.2" y="120.6" width="0.9" height="0.9" fill="#222" opacity="0.3"/>
<rect x="300.1" y="115.4" width="0.9" height="0.9" fill="#222" opacity="0.3"/>
<rect x="300.3" y="114.3" width="0.9" height="0.9" fill="#222" opacity="0.3"/>
<rect x="302.1" y="118.5" width="0.9" height="0.9" fill="#222" opacity="0.3"/>
<rect x="298.9" y="119.9" width="0.9" height="0.9" fill="#222" opacity="0.3"/>
<rect x="301.8" y="116.5" width="0.9" height="0.9" fill="#222" opacity="0.3"/>
<rect x="305.8" y="117.5" width="0.9" height="0.9" fill="#222" opacity="0.3"/>
<rect x="303.0" y="116.7" width="0.9" height="0.9" fill="#222" opacity="0.3"/>
<rect x="301.9" y="119.6" width="0.9" height="0.9" fill="#222" opacity="0.3"/>
<rect x="300.8" y="122.1" width="0.9" height="0.9" fill="#222" opacity="0.3"/>
<rect x="306.3" y="121.0" width="0.9" height="0.9" fill="#222" opacity="0.3"/>
<rect x="301.4" y="117.8" width="0.9" height="0.9" fill="#222" opacity="0.3"/>
<rect x="302.8" y="119.8" width="0.9" height="0.9" fill="#222" opacity="0.3"/>
<rect x="303.5" y="120.4" width="0.9" height="0.9" fill="#222" opacity="0.3"/>
<rect x="306.2" y="114.9" width="0.9" height="0.9" fill="#222" opacity="0.3"/>
<rect x="300.1" y="123.0" width="0.9" height="0.9" fill="#222" opacity="0.3"/>
<rect x="299.9" y="118.3" width="0.9" height="0.9" fill="#222" opacity="0.3"/>
<rect x="300.2" y="116.6" width="0.9" height="0.9" fill="#222" opacity="0.3"/>
<rect x="304.4" y="117.4" width="0.9" height="0.9" fill="#222" opacity="0.3"/>
<rect x="298.4" y="119.4" width="0.9" height="0.9" fill="#222" opacity="0.3"/>
<rect x="304.0" y="118.2" width="0.9" height="0.9" fill="#222" opacity="0.3"/>
<rect x="298.9" y="123.0" width="0.9" height="0.9" fill="#222" opacity="0.3"/>
<rect x="303.6" y="119.5" width="0.9" height="0.9" fill="#222" opacity="0.3"/>
<rect x="297.6" y="116.2" width="0.9" height="0.9" fill="#222" opacity="0.3"/>
<rect x="298.9" y="114.3" width="0.9" height="0.9" fill="#222" opacity="0.3"/>
<rect x="303.2" y="118.7" width="0.9" height="0.9" fill="#222" opacity="0.3"/>
<rect x="302.4" y="125.7" width="0.9" height="0.9" fill="#222" opacity="0.3"/>
<rect x="304.5" y="117.3" width="0.9" height="0.9" fill="#222" opacity="0.3"/>
<rect x="303.6" y="123.7" width="0.9" height="0.9" fill="#222" opacity="0.3"/>
<rect x="298.8" y="117.8" width="0.9" height="0.9" fill="#222" opacity="0.3"/>
<rect x="300.7" y="116.0" width="0.9" height="0.9" fill="#222" opacity="0.3"/>
<rect x="305.4" y="113.8" width="0.9" height="0.9" fill="#222" opacity="0.3"/>
<rect x="297.7" y="119.7" width="0.9" height="0.9" fill="#222" opacity="0.3"/>
<rect x="300.3" y="121.0" width="0.9" height="0.9" fill="#222" opacity="0.3"/>
<rect x="301.8" y="119.9" width="0.9" height="0.9" fill="#222" opacity="0.3"/>
<rect x="304.4" y="114.5" width="0.9" height="0.9" fill="#222" opacity="0.3"/>
<rect x="301.0" y="118.5" width="0.9" height="0.9" fill="#222" opacity="0.3"/>
<rect x="301.4" y="121.1" width="0.9" height="0.9" fill="#222" opacity="0.3"/>
<rect x="298.3" y="118.7" width="0.9" height="0.9" fill="#222" opacity="0.3"/>
<rect x="303.4" y="121.5" width="0.9" height="0.9" fill="#222" opacity="0.3"/>
<rect x="307.9" y="116.4" width="0.9" height="0.9" fill="#222" opacity="0.3"/>
<rect x="303.4" y="121.1" width="0.9" height="0.9" fill="#222" opacity="0.3"/>
<rect x="300.4" y="119.0" width="0.9" height="0.9" fill="#222" opacity="0.3"/>
<rect x="300.4" y="119.0" width="0.9" height="0.9" fill="#222" opacity="0.3"/>
<rect x="303.2" y="119.4" width="0.9" height="0.9" fill="#222" opacity="0.3"/>
<rect x="299.7" y="117.1" width="0.9" height="0.9" fill="#222" opacity="0.3"/>
<rect x="300.9" y="118.0" width="0.9" height="0.9" fill="#222" opacity="0.3"/>
<rect x="300.5" y="123.4" width="0.9" height="0.9" fill="#222" opacity="0.3"/>
<rect x="302.1" y="121.9" width="0.9" height="0.9" fill="#222" opacity="0.3"/>
<rect x="302.1" y="120.7" width="0.9" height="0.9" fill="#222" opacity="0.3"/>
<rect x="300.6" y="119.6" width="0.9" height="0.9" fill="#222" opacity="0.3"/>
<rect x="303.3" y="117.5" width="0.9" height="0.9" fill="#222" opacity="0.3"/>
<rect x="305.0" y="120.6" width="0.9" height="0.9" fill="#222" opacity="0.3"/>
<rect x="298.8" y="119.1" width="0.9" height="0.9" fill="#222" opacity="0.3"/>
<rect x="299.0" y="120.9" width="0.9" height="0.9" fill="#222" opacity="0.3"/>
<rect x="298.8" y="123.7" width="0.9" height="0.9" fill="#222" opacity="0.3"/>
<rect x="298.7" y="114.1" width="0.9" height="0.9" fill="#222" opacity="0.3"/>
<rect x="298.8" y="114.9" width="0.9" height="0.9" fill="#222" opacity="0.3"/>
<rect x="300.9" y="123.5" width="0.9" height="0.9" fill="#222" opacity="0.3"/>
<rect x="302.9" y="116.8" width="0.9" height="0.9" fill="#222" opacity="0.3"/>
<rect x="298.7" y="125.5" width="0.9" height="0.9" fill="#222" opacity="0.3"/>
<rect x="302.0" y="120.5" width="0.9" height="0.9" fill="#222" opacity="0.3"/>
<rect x="304.9" y="120.9" width="0.9" height="0.9" fill="#222" opacity="0.3"/>
<rect x="302.1" y="122.2" width="0.9" height="0.9" fill="#222" opacity="0.3"/>
<rect x="299.2" y="117.5" width="0.9" height="0.9" fill="#222" opacity="0.3"/>
<rect x="301.2" y="117.8" width="0.9" height="0.9" fill="#222" opacity="0.3"/>
<rect x="300.8" y="120.8" width="0.9" height="0.9" fill="#222" opacity="0.3"/>
<rect x="308.0" y="118.1" width="0.9" height="0.9" fill="#222" opacity="0.3"/>
<rect x="300.6" y="120.0" width="0.9" height="0.9" fill="#222" opacity="0.3"/>
<rect x="302.3" y="123.4" width="0.9" height="0.9" fill="#222" opacity="0.3"/>
<rect x="299.5" y="118.2" width="0.9" height="0.9" fill="#222" opacity="0.3"/>
<rect x="302.6" y="120.6" width="0.9" height="0.9" fill="#222" opacity="0.3"/>
<rect x="298.0" y="119.5" width="0.9" height="0.9" fill="#222" opacity="0.3"/>
<ellipse cx="301.5" cy="120.6" rx="5.2" ry="5.0" transform="rotate(0 301.5 120.6)" fill="#777" opacity="0.5" filter="url(#bl15)"/>
<ellipse cx="303.8" cy="121.2" rx="2.5" ry="2.3" transform="rotate(0 303.8 121.2)" fill="#111" opacity="0.7" filter="url(#bl12)"/>
<line x1="308.50" y1="83.70" x2="308.50" y2="126.60" stroke="#3a3a3a" stroke-width="1.2" />
<line x1="295.90" y1="113.90" x2="342.30" y2="113.90" stroke="#3a3a3a" stroke-width="1.2" />
<text x="337.80" y="91.08" font-size="5.50" text-anchor="end" fill="#231f20" textLength="8.50" lengthAdjust="spacingAndGlyphs">0.1%</text>
<text x="291.60" y="86.21" font-size="4.20" text-anchor="end" fill="#333" textLength="4.67" lengthAdjust="spacingAndGlyphs">10</text>
<text x="291.80" y="84.06" font-size="2.40" text-anchor="start" fill="#333">5</text>
<text x="291.60" y="95.61" font-size="4.20" text-anchor="end" fill="#333" textLength="4.67" lengthAdjust="spacingAndGlyphs">10</text>
<text x="291.80" y="93.46" font-size="2.40" text-anchor="start" fill="#333">4</text>
<text x="291.60" y="103.81" font-size="4.20" text-anchor="end" fill="#333" textLength="4.67" lengthAdjust="spacingAndGlyphs">10</text>
<text x="291.80" y="101.66" font-size="2.40" text-anchor="start" fill="#333">3</text>
<text x="291.60" y="111.91" font-size="4.20" text-anchor="end" fill="#333" textLength="4.67" lengthAdjust="spacingAndGlyphs">10</text>
<text x="291.80" y="109.76" font-size="2.40" text-anchor="start" fill="#333">2</text>
<text x="291.60" y="120.11" font-size="4.20" text-anchor="end" fill="#333" textLength="4.67" lengthAdjust="spacingAndGlyphs">10</text>
<text x="291.80" y="117.96" font-size="2.40" text-anchor="start" fill="#333">1</text>
<text x="291.60" y="128.11" font-size="4.20" text-anchor="end" fill="#333" textLength="4.67" lengthAdjust="spacingAndGlyphs">10</text>
<text x="291.80" y="125.96" font-size="2.40" text-anchor="start" fill="#333" textLength="2.13" lengthAdjust="spacingAndGlyphs">-1</text>
<text x="293.00" y="133.31" font-size="4.20" text-anchor="middle" fill="#333" textLength="4.67" lengthAdjust="spacingAndGlyphs">10</text>
<text x="295.40" y="131.16" font-size="2.40" text-anchor="start" fill="#333" textLength="2.13" lengthAdjust="spacingAndGlyphs">-1</text>
<text x="305.20" y="133.31" font-size="4.20" text-anchor="middle" fill="#333" textLength="4.67" lengthAdjust="spacingAndGlyphs">10</text>
<text x="307.60" y="131.16" font-size="2.40" text-anchor="start" fill="#333">1</text>
<text x="312.80" y="133.31" font-size="4.20" text-anchor="middle" fill="#333" textLength="4.67" lengthAdjust="spacingAndGlyphs">10</text>
<text x="315.20" y="131.16" font-size="2.40" text-anchor="start" fill="#333">2</text>
<text x="322.80" y="133.31" font-size="4.20" text-anchor="middle" fill="#333" textLength="4.67" lengthAdjust="spacingAndGlyphs">10</text>
<text x="325.20" y="131.16" font-size="2.40" text-anchor="start" fill="#333">3</text>
<text x="330.10" y="133.31" font-size="4.20" text-anchor="middle" fill="#333" textLength="4.67" lengthAdjust="spacingAndGlyphs">10</text>
<text x="332.50" y="131.16" font-size="2.40" text-anchor="start" fill="#333">4</text>
<text x="340.60" y="133.31" font-size="4.20" text-anchor="middle" fill="#333" textLength="4.67" lengthAdjust="spacingAndGlyphs">10</text>
<text x="343.00" y="131.16" font-size="2.40" text-anchor="start" fill="#333">5</text>
<line x1="295.90" y1="83.70" x2="295.90" y2="126.60" stroke="#777" stroke-width="1.0" stroke-dasharray="0.8 0.5"/>
<line x1="295.90" y1="126.60" x2="342.30" y2="126.60" stroke="#777" stroke-width="1.0" stroke-dasharray="0.8 0.5"/>
<rect x="377.90" y="83.70" width="46.40" height="42.90" fill="none" stroke="#9a9a9a" stroke-width="0.8" />
<rect x="410.1" y="112.5" width="0.9" height="0.9" fill="#222" opacity="0.3"/>
<rect x="408.8" y="109.9" width="0.9" height="0.9" fill="#222" opacity="0.3"/>
<rect x="405.8" y="106.1" width="0.9" height="0.9" fill="#222" opacity="0.3"/>
<rect x="417.9" y="108.3" width="0.9" height="0.9" fill="#222" opacity="0.3"/>
<rect x="409.2" y="111.4" width="0.9" height="0.9" fill="#222" opacity="0.3"/>
<rect x="410.1" y="108.9" width="0.9" height="0.9" fill="#222" opacity="0.3"/>
<rect x="410.3" y="111.2" width="0.9" height="0.9" fill="#222" opacity="0.3"/>
<rect x="412.1" y="106.7" width="0.9" height="0.9" fill="#222" opacity="0.3"/>
<rect x="410.9" y="109.1" width="0.9" height="0.9" fill="#222" opacity="0.3"/>
<rect x="408.5" y="111.1" width="0.9" height="0.9" fill="#222" opacity="0.3"/>
<rect x="411.7" y="114.3" width="0.9" height="0.9" fill="#222" opacity="0.3"/>
<rect x="408.0" y="112.8" width="0.9" height="0.9" fill="#222" opacity="0.3"/>
<rect x="413.1" y="115.6" width="0.9" height="0.9" fill="#222" opacity="0.3"/>
<rect x="415.1" y="112.8" width="0.9" height="0.9" fill="#222" opacity="0.3"/>
<rect x="409.1" y="113.0" width="0.9" height="0.9" fill="#222" opacity="0.3"/>
<rect x="405.9" y="109.9" width="0.9" height="0.9" fill="#222" opacity="0.3"/>
<rect x="409.2" y="109.7" width="0.9" height="0.9" fill="#222" opacity="0.3"/>
<rect x="405.8" y="106.8" width="0.9" height="0.9" fill="#222" opacity="0.3"/>
<rect x="409.5" y="113.4" width="0.9" height="0.9" fill="#222" opacity="0.3"/>
<rect x="413.8" y="112.5" width="0.9" height="0.9" fill="#222" opacity="0.3"/>
<rect x="410.7" y="109.1" width="0.9" height="0.9" fill="#222" opacity="0.3"/>
<rect x="412.0" y="111.3" width="0.9" height="0.9" fill="#222" opacity="0.3"/>
<rect x="410.7" y="116.3" width="0.9" height="0.9" fill="#222" opacity="0.3"/>
<rect x="411.9" y="107.7" width="0.9" height="0.9" fill="#222" opacity="0.3"/>
<rect x="409.2" y="106.6" width="0.9" height="0.9" fill="#222" opacity="0.3"/>
<rect x="405.3" y="112.8" width="0.9" height="0.9" fill="#222" opacity="0.3"/>
<rect x="412.8" y="108.0" width="0.9" height="0.9" fill="#222" opacity="0.3"/>
<rect x="411.3" y="115.2" width="0.9" height="0.9" fill="#222" opacity="0.3"/>
<rect x="410.0" y="109.2" width="0.9" height="0.9" fill="#222" opacity="0.3"/>
<rect x="409.1" y="111.5" width="0.9" height="0.9" fill="#222" opacity="0.3"/>
<rect x="411.4" y="115.0" width="0.9" height="0.9" fill="#222" opacity="0.3"/>
<rect x="413.2" y="115.8" width="0.9" height="0.9" fill="#222" opacity="0.3"/>
<rect x="414.2" y="114.7" width="0.9" height="0.9" fill="#222" opacity="0.3"/>
<rect x="405.7" y="108.9" width="0.9" height="0.9" fill="#222" opacity="0.3"/>
<rect x="411.9" y="110.8" width="0.9" height="0.9" fill="#222" opacity="0.3"/>
<rect x="413.8" y="111.7" width="0.9" height="0.9" fill="#222" opacity="0.3"/>
<rect x="406.1" y="113.5" width="0.9" height="0.9" fill="#222" opacity="0.3"/>
<rect x="412.4" y="112.7" width="0.9" height="0.9" fill="#222" opacity="0.3"/>
<rect x="412.4" y="115.1" width="0.9" height="0.9" fill="#222" opacity="0.3"/>
<rect x="414.1" y="105.9" width="0.9" height="0.9" fill="#222" opacity="0.3"/>
<rect x="408.8" y="109.3" width="0.9" height="0.9" fill="#222" opacity="0.3"/>
<rect x="407.1" y="110.4" width="0.9" height="0.9" fill="#222" opacity="0.3"/>
<rect x="414.8" y="111.8" width="0.9" height="0.9" fill="#222" opacity="0.3"/>
<rect x="404.8" y="114.6" width="0.9" height="0.9" fill="#222" opacity="0.3"/>
<rect x="410.3" y="107.7" width="0.9" height="0.9" fill="#222" opacity="0.3"/>
<rect x="410.8" y="112.6" width="0.9" height="0.9" fill="#222" opacity="0.3"/>
<rect x="407.4" y="112.2" width="0.9" height="0.9" fill="#222" opacity="0.3"/>
<rect x="409.9" y="108.4" width="0.9" height="0.9" fill="#222" opacity="0.3"/>
<rect x="410.3" y="113.4" width="0.9" height="0.9" fill="#222" opacity="0.3"/>
<rect x="408.1" y="111.2" width="0.9" height="0.9" fill="#222" opacity="0.3"/>
<rect x="407.3" y="117.9" width="0.9" height="0.9" fill="#222" opacity="0.3"/>
<rect x="406.8" y="113.6" width="0.9" height="0.9" fill="#222" opacity="0.3"/>
<rect x="410.5" y="110.9" width="0.9" height="0.9" fill="#222" opacity="0.3"/>
<rect x="411.9" y="114.4" width="0.9" height="0.9" fill="#222" opacity="0.3"/>
<rect x="414.3" y="113.8" width="0.9" height="0.9" fill="#222" opacity="0.3"/>
<rect x="409.1" y="109.2" width="0.9" height="0.9" fill="#222" opacity="0.3"/>
<rect x="411.6" y="113.4" width="0.9" height="0.9" fill="#222" opacity="0.3"/>
<rect x="414.6" y="114.2" width="0.9" height="0.9" fill="#222" opacity="0.3"/>
<rect x="412.4" y="116.4" width="0.9" height="0.9" fill="#222" opacity="0.3"/>
<rect x="412.5" y="108.0" width="0.9" height="0.9" fill="#222" opacity="0.3"/>
<rect x="408.2" y="106.2" width="0.9" height="0.9" fill="#222" opacity="0.3"/>
<rect x="416.5" y="111.4" width="0.9" height="0.9" fill="#222" opacity="0.3"/>
<rect x="413.9" y="114.4" width="0.9" height="0.9" fill="#222" opacity="0.3"/>
<rect x="415.0" y="116.0" width="0.9" height="0.9" fill="#222" opacity="0.3"/>
<rect x="410.4" y="110.7" width="0.9" height="0.9" fill="#222" opacity="0.3"/>
<rect x="410.6" y="111.8" width="0.9" height="0.9" fill="#222" opacity="0.3"/>
<rect x="408.8" y="110.5" width="0.9" height="0.9" fill="#222" opacity="0.3"/>
<rect x="417.4" y="109.4" width="0.9" height="0.9" fill="#222" opacity="0.3"/>
<rect x="412.3" y="109.5" width="0.9" height="0.9" fill="#222" opacity="0.3"/>
<rect x="410.3" y="113.6" width="0.9" height="0.9" fill="#222" opacity="0.3"/>
<rect x="409.5" y="113.1" width="0.9" height="0.9" fill="#222" opacity="0.3"/>
<rect x="404.3" y="111.8" width="0.9" height="0.9" fill="#222" opacity="0.3"/>
<rect x="407.9" y="112.0" width="0.9" height="0.9" fill="#222" opacity="0.3"/>
<rect x="413.7" y="105.4" width="0.9" height="0.9" fill="#222" opacity="0.3"/>
<rect x="407.8" y="110.8" width="0.9" height="0.9" fill="#222" opacity="0.3"/>
<rect x="415.2" y="114.1" width="0.9" height="0.9" fill="#222" opacity="0.3"/>
<rect x="412.8" y="108.3" width="0.9" height="0.9" fill="#222" opacity="0.3"/>
<rect x="413.3" y="117.6" width="0.9" height="0.9" fill="#222" opacity="0.3"/>
<rect x="410.8" y="110.8" width="0.9" height="0.9" fill="#222" opacity="0.3"/>
<rect x="404.4" y="111.2" width="0.9" height="0.9" fill="#222" opacity="0.3"/>
<rect x="418.5" y="116.7" width="0.9" height="0.9" fill="#222" opacity="0.3"/>
<rect x="414.0" y="114.3" width="0.9" height="0.9" fill="#222" opacity="0.3"/>
<rect x="406.0" y="113.2" width="0.9" height="0.9" fill="#222" opacity="0.3"/>
<rect x="406.7" y="109.1" width="0.9" height="0.9" fill="#222" opacity="0.3"/>
<rect x="410.5" y="113.8" width="0.9" height="0.9" fill="#222" opacity="0.3"/>
<rect x="411.4" y="112.8" width="0.9" height="0.9" fill="#222" opacity="0.3"/>
<rect x="409.4" y="107.2" width="0.9" height="0.9" fill="#222" opacity="0.3"/>
<rect x="411.4" y="109.7" width="0.9" height="0.9" fill="#222" opacity="0.3"/>
<rect x="407.6" y="106.5" width="0.9" height="0.9" fill="#222" opacity="0.3"/>
<rect x="410.8" y="106.2" width="0.9" height="0.9" fill="#222" opacity="0.3"/>
<rect x="387.9" y="111.3" width="0.9" height="0.9" fill="#222" opacity="0.22"/>
<rect x="401.6" y="118.4" width="0.9" height="0.9" fill="#222" opacity="0.22"/>
<rect x="418.1" y="111.8" width="0.9" height="0.9" fill="#222" opacity="0.22"/>
<rect x="393.9" y="120.2" width="0.9" height="0.9" fill="#222" opacity="0.22"/>
<rect x="398.0" y="115.9" width="0.9" height="0.9" fill="#222" opacity="0.22"/>
<rect x="415.4" y="115.8" width="0.9" height="0.9" fill="#222" opacity="0.22"/>
<rect x="389.6" y="112.4" width="0.9" height="0.9" fill="#222" opacity="0.22"/>
<rect x="403.0" y="118.1" width="0.9" height="0.9" fill="#222" opacity="0.22"/>
<rect x="387.7" y="113.6" width="0.9" height="0.9" fill="#222" opacity="0.22"/>
<rect x="404.8" y="119.0" width="0.9" height="0.9" fill="#222" opacity="0.22"/>
<rect x="394.2" y="119.2" width="0.9" height="0.9" fill="#222" opacity="0.22"/>
<rect x="405.1" y="110.8" width="0.9" height="0.9" fill="#222" opacity="0.22"/>
<rect x="397.2" y="118.5" width="0.9" height="0.9" fill="#222" opacity="0.22"/>
<rect x="394.8" y="109.5" width="0.9" height="0.9" fill="#222" opacity="0.22"/>
<rect x="397.5" y="119.6" width="0.9" height="0.9" fill="#222" opacity="0.22"/>
<rect x="414.2" y="109.3" width="0.9" height="0.9" fill="#222" opacity="0.22"/>
<rect x="423.5" y="113.1" width="0.9" height="0.9" fill="#222" opacity="0.22"/>
<rect x="408.6" y="121.3" width="0.9" height="0.9" fill="#222" opacity="0.22"/>
<rect x="408.8" y="117.5" width="0.9" height="0.9" fill="#222" opacity="0.22"/>
<rect x="389.5" y="119.2" width="0.9" height="0.9" fill="#222" opacity="0.22"/>
<rect x="393.6" y="108.2" width="0.9" height="0.9" fill="#222" opacity="0.22"/>
<rect x="416.4" y="113.8" width="0.9" height="0.9" fill="#222" opacity="0.22"/>
<rect x="413.2" y="122.6" width="0.9" height="0.9" fill="#222" opacity="0.22"/>
<rect x="414.0" y="116.9" width="0.9" height="0.9" fill="#222" opacity="0.22"/>
<rect x="389.2" y="116.4" width="0.9" height="0.9" fill="#222" opacity="0.22"/>
<rect x="380.2" y="111.0" width="0.9" height="0.9" fill="#222" opacity="0.22"/>
<rect x="400.8" y="113.5" width="0.9" height="0.9" fill="#222" opacity="0.22"/>
<rect x="398.5" y="116.6" width="0.9" height="0.9" fill="#222" opacity="0.22"/>
<rect x="417.4" y="121.5" width="0.9" height="0.9" fill="#222" opacity="0.22"/>
<rect x="399.6" y="121.2" width="0.9" height="0.9" fill="#222" opacity="0.22"/>
<rect x="393.0" y="115.8" width="0.9" height="0.9" fill="#222" opacity="0.22"/>
<rect x="408.2" y="112.7" width="0.9" height="0.9" fill="#222" opacity="0.22"/>
<rect x="397.5" y="112.4" width="0.9" height="0.9" fill="#222" opacity="0.22"/>
<rect x="401.1" y="122.7" width="0.9" height="0.9" fill="#222" opacity="0.22"/>
<rect x="393.2" y="117.8" width="0.9" height="0.9" fill="#222" opacity="0.22"/>
<rect x="391.9" y="113.0" width="0.9" height="0.9" fill="#222" opacity="0.22"/>
<rect x="388.9" y="122.1" width="0.9" height="0.9" fill="#222" opacity="0.22"/>
<rect x="421.3" y="118.7" width="0.9" height="0.9" fill="#222" opacity="0.22"/>
<rect x="393.6" y="119.5" width="0.9" height="0.9" fill="#222" opacity="0.22"/>
<rect x="397.0" y="119.8" width="0.9" height="0.9" fill="#222" opacity="0.22"/>
<rect x="402.6" y="118.0" width="0.9" height="0.9" fill="#222" opacity="0.22"/>
<rect x="405.5" y="115.0" width="0.9" height="0.9" fill="#222" opacity="0.22"/>
<rect x="396.4" y="111.0" width="0.9" height="0.9" fill="#222" opacity="0.22"/>
<rect x="396.0" y="112.0" width="0.9" height="0.9" fill="#222" opacity="0.22"/>
<rect x="398.7" y="113.6" width="0.9" height="0.9" fill="#222" opacity="0.22"/>
<rect x="400.9" y="118.6" width="0.9" height="0.9" fill="#222" opacity="0.22"/>
<rect x="387.2" y="114.2" width="0.9" height="0.9" fill="#222" opacity="0.22"/>
<rect x="391.5" y="119.6" width="0.9" height="0.9" fill="#222" opacity="0.22"/>
<rect x="415.4" y="120.0" width="0.9" height="0.9" fill="#222" opacity="0.22"/>
<rect x="396.9" y="122.1" width="0.9" height="0.9" fill="#222" opacity="0.22"/>
<rect x="386.4" y="122.2" width="0.9" height="0.9" fill="#222" opacity="0.22"/>
<rect x="394.1" y="107.3" width="0.9" height="0.9" fill="#222" opacity="0.22"/>
<rect x="390.7" y="117.6" width="0.9" height="0.9" fill="#222" opacity="0.22"/>
<rect x="398.1" y="117.4" width="0.9" height="0.9" fill="#222" opacity="0.22"/>
<rect x="386.7" y="114.6" width="0.9" height="0.9" fill="#222" opacity="0.22"/>
<rect x="404.2" y="117.8" width="0.9" height="0.9" fill="#222" opacity="0.22"/>
<rect x="410.8" y="117.3" width="0.9" height="0.9" fill="#222" opacity="0.22"/>
<rect x="421.1" y="114.5" width="0.9" height="0.9" fill="#222" opacity="0.22"/>
<ellipse cx="412.5" cy="111.6" rx="5.3" ry="4.3" transform="rotate(20 412.5 111.6)" fill="#777" opacity="0.45" filter="url(#bl15)"/>
<ellipse cx="412.3" cy="111.8" rx="2.8" ry="2.3" transform="rotate(30 412.3 111.8)" fill="#111" opacity="0.8" filter="url(#bl12)"/>
<line x1="391.50" y1="83.70" x2="391.50" y2="126.60" stroke="#3a3a3a" stroke-width="1.2" />
<line x1="377.90" y1="113.90" x2="424.30" y2="113.90" stroke="#3a3a3a" stroke-width="1.2" />
<text x="419.80" y="91.08" font-size="5.50" text-anchor="end" fill="#231f20" textLength="10.50" lengthAdjust="spacingAndGlyphs">83.5%</text>
<text x="373.60" y="86.21" font-size="4.20" text-anchor="end" fill="#333" textLength="4.67" lengthAdjust="spacingAndGlyphs">10</text>
<text x="373.80" y="84.06" font-size="2.40" text-anchor="start" fill="#333">5</text>
<text x="373.60" y="95.61" font-size="4.20" text-anchor="end" fill="#333" textLength="4.67" lengthAdjust="spacingAndGlyphs">10</text>
<text x="373.80" y="93.46" font-size="2.40" text-anchor="start" fill="#333">4</text>
<text x="373.60" y="103.81" font-size="4.20" text-anchor="end" fill="#333" textLength="4.67" lengthAdjust="spacingAndGlyphs">10</text>
<text x="373.80" y="101.66" font-size="2.40" text-anchor="start" fill="#333">3</text>
<text x="373.60" y="111.91" font-size="4.20" text-anchor="end" fill="#333" textLength="4.67" lengthAdjust="spacingAndGlyphs">10</text>
<text x="373.80" y="109.76" font-size="2.40" text-anchor="start" fill="#333">2</text>
<text x="373.60" y="120.11" font-size="4.20" text-anchor="end" fill="#333" textLength="4.67" lengthAdjust="spacingAndGlyphs">10</text>
<text x="373.80" y="117.96" font-size="2.40" text-anchor="start" fill="#333">1</text>
<text x="373.60" y="128.11" font-size="4.20" text-anchor="end" fill="#333" textLength="4.67" lengthAdjust="spacingAndGlyphs">10</text>
<text x="373.80" y="125.96" font-size="2.40" text-anchor="start" fill="#333" textLength="2.13" lengthAdjust="spacingAndGlyphs">-1</text>
<text x="375.00" y="133.31" font-size="4.20" text-anchor="middle" fill="#333" textLength="4.67" lengthAdjust="spacingAndGlyphs">10</text>
<text x="377.40" y="131.16" font-size="2.40" text-anchor="start" fill="#333" textLength="2.13" lengthAdjust="spacingAndGlyphs">-1</text>
<text x="387.20" y="133.31" font-size="4.20" text-anchor="middle" fill="#333" textLength="4.67" lengthAdjust="spacingAndGlyphs">10</text>
<text x="389.60" y="131.16" font-size="2.40" text-anchor="start" fill="#333">1</text>
<text x="394.80" y="133.31" font-size="4.20" text-anchor="middle" fill="#333" textLength="4.67" lengthAdjust="spacingAndGlyphs">10</text>
<text x="397.20" y="131.16" font-size="2.40" text-anchor="start" fill="#333">2</text>
<text x="404.80" y="133.31" font-size="4.20" text-anchor="middle" fill="#333" textLength="4.67" lengthAdjust="spacingAndGlyphs">10</text>
<text x="407.20" y="131.16" font-size="2.40" text-anchor="start" fill="#333">3</text>
<text x="412.10" y="133.31" font-size="4.20" text-anchor="middle" fill="#333" textLength="4.67" lengthAdjust="spacingAndGlyphs">10</text>
<text x="414.50" y="131.16" font-size="2.40" text-anchor="start" fill="#333">4</text>
<text x="422.60" y="133.31" font-size="4.20" text-anchor="middle" fill="#333" textLength="4.67" lengthAdjust="spacingAndGlyphs">10</text>
<text x="425.00" y="131.16" font-size="2.40" text-anchor="start" fill="#333">5</text>
<line x1="377.90" y1="83.70" x2="377.90" y2="126.60" stroke="#777" stroke-width="1.0" stroke-dasharray="0.8 0.5"/>
<line x1="377.90" y1="126.60" x2="424.30" y2="126.60" stroke="#777" stroke-width="1.0" stroke-dasharray="0.8 0.5"/>
<rect x="458.90" y="82.90" width="46.40" height="42.90" fill="none" stroke="#9a9a9a" stroke-width="0.8" />
<rect x="486.4" y="104.6" width="0.9" height="0.9" fill="#222" opacity="0.3"/>
<rect x="481.1" y="116.3" width="0.9" height="0.9" fill="#222" opacity="0.3"/>
<rect x="482.2" y="113.4" width="0.9" height="0.9" fill="#222" opacity="0.3"/>
<rect x="485.3" y="107.7" width="0.9" height="0.9" fill="#222" opacity="0.3"/>
<rect x="484.3" y="109.6" width="0.9" height="0.9" fill="#222" opacity="0.3"/>
<rect x="483.8" y="114.2" width="0.9" height="0.9" fill="#222" opacity="0.3"/>
<rect x="487.8" y="109.4" width="0.9" height="0.9" fill="#222" opacity="0.3"/>
<rect x="482.3" y="112.5" width="0.9" height="0.9" fill="#222" opacity="0.3"/>
<rect x="485.1" y="115.2" width="0.9" height="0.9" fill="#222" opacity="0.3"/>
<rect x="494.8" y="114.5" width="0.9" height="0.9" fill="#222" opacity="0.3"/>
<rect x="485.4" y="110.9" width="0.9" height="0.9" fill="#222" opacity="0.3"/>
<rect x="482.5" y="108.2" width="0.9" height="0.9" fill="#222" opacity="0.3"/>
<rect x="482.0" y="110.1" width="0.9" height="0.9" fill="#222" opacity="0.3"/>
<rect x="484.0" y="114.2" width="0.9" height="0.9" fill="#222" opacity="0.3"/>
<rect x="484.1" y="110.8" width="0.9" height="0.9" fill="#222" opacity="0.3"/>
<rect x="481.2" y="117.4" width="0.9" height="0.9" fill="#222" opacity="0.3"/>
<rect x="487.3" y="117.9" width="0.9" height="0.9" fill="#222" opacity="0.3"/>
<rect x="488.3" y="116.9" width="0.9" height="0.9" fill="#222" opacity="0.3"/>
<rect x="484.6" y="114.1" width="0.9" height="0.9" fill="#222" opacity="0.3"/>
<rect x="495.0" y="107.1" width="0.9" height="0.9" fill="#222" opacity="0.3"/>
<rect x="489.6" y="117.6" width="0.9" height="0.9" fill="#222" opacity="0.3"/>
<rect x="487.0" y="114.3" width="0.9" height="0.9" fill="#222" opacity="0.3"/>
<rect x="490.0" y="109.1" width="0.9" height="0.9" fill="#222" opacity="0.3"/>
<rect x="487.0" y="108.3" width="0.9" height="0.9" fill="#222" opacity="0.3"/>
<rect x="483.1" y="109.2" width="0.9" height="0.9" fill="#222" opacity="0.3"/>
<rect x="485.0" y="112.0" width="0.9" height="0.9" fill="#222" opacity="0.3"/>
<rect x="487.1" y="106.3" width="0.9" height="0.9" fill="#222" opacity="0.3"/>
<rect x="492.6" y="115.8" width="0.9" height="0.9" fill="#222" opacity="0.3"/>
<rect x="488.1" y="110.2" width="0.9" height="0.9" fill="#222" opacity="0.3"/>
<rect x="485.2" y="113.5" width="0.9" height="0.9" fill="#222" opacity="0.3"/>
<rect x="487.0" y="105.3" width="0.9" height="0.9" fill="#222" opacity="0.3"/>
<rect x="488.2" y="122.3" width="0.9" height="0.9" fill="#222" opacity="0.3"/>
<rect x="478.9" y="115.2" width="0.9" height="0.9" fill="#222" opacity="0.3"/>
<rect x="486.8" y="111.1" width="0.9" height="0.9" fill="#222" opacity="0.3"/>
<rect x="490.4" y="107.1" width="0.9" height="0.9" fill="#222" opacity="0.3"/>
<rect x="486.1" y="116.9" width="0.9" height="0.9" fill="#222" opacity="0.3"/>
<rect x="484.8" y="110.0" width="0.9" height="0.9" fill="#222" opacity="0.3"/>
<rect x="485.9" y="109.9" width="0.9" height="0.9" fill="#222" opacity="0.3"/>
<rect x="491.1" y="108.1" width="0.9" height="0.9" fill="#222" opacity="0.3"/>
<rect x="488.6" y="106.9" width="0.9" height="0.9" fill="#222" opacity="0.3"/>
<rect x="487.9" y="111.1" width="0.9" height="0.9" fill="#222" opacity="0.3"/>
<rect x="476.2" y="111.5" width="0.9" height="0.9" fill="#222" opacity="0.3"/>
<rect x="481.7" y="109.9" width="0.9" height="0.9" fill="#222" opacity="0.3"/>
<rect x="491.0" y="107.4" width="0.9" height="0.9" fill="#222" opacity="0.3"/>
<rect x="481.7" y="116.8" width="0.9" height="0.9" fill="#222" opacity="0.3"/>
<rect x="485.9" y="117.2" width="0.9" height="0.9" fill="#222" opacity="0.3"/>
<rect x="486.7" y="108.2" width="0.9" height="0.9" fill="#222" opacity="0.3"/>
<rect x="485.3" y="116.1" width="0.9" height="0.9" fill="#222" opacity="0.3"/>
<rect x="488.9" y="111.5" width="0.9" height="0.9" fill="#222" opacity="0.3"/>
<rect x="485.7" y="111.1" width="0.9" height="0.9" fill="#222" opacity="0.3"/>
<rect x="483.4" y="118.6" width="0.9" height="0.9" fill="#222" opacity="0.3"/>
<rect x="485.5" y="107.3" width="0.9" height="0.9" fill="#222" opacity="0.3"/>
<rect x="483.8" y="114.2" width="0.9" height="0.9" fill="#222" opacity="0.3"/>
<rect x="487.8" y="111.0" width="0.9" height="0.9" fill="#222" opacity="0.3"/>
<rect x="483.1" y="111.6" width="0.9" height="0.9" fill="#222" opacity="0.3"/>
<rect x="479.5" y="106.7" width="0.9" height="0.9" fill="#222" opacity="0.3"/>
<rect x="488.4" y="109.7" width="0.9" height="0.9" fill="#222" opacity="0.3"/>
<rect x="486.8" y="116.0" width="0.9" height="0.9" fill="#222" opacity="0.3"/>
<rect x="487.8" y="111.6" width="0.9" height="0.9" fill="#222" opacity="0.3"/>
<rect x="493.2" y="114.0" width="0.9" height="0.9" fill="#222" opacity="0.3"/>
<rect x="484.2" y="114.2" width="0.9" height="0.9" fill="#222" opacity="0.3"/>
<rect x="487.0" y="108.3" width="0.9" height="0.9" fill="#222" opacity="0.3"/>
<rect x="485.8" y="110.9" width="0.9" height="0.9" fill="#222" opacity="0.3"/>
<rect x="478.4" y="110.9" width="0.9" height="0.9" fill="#222" opacity="0.3"/>
<rect x="484.5" y="109.9" width="0.9" height="0.9" fill="#222" opacity="0.3"/>
<rect x="479.6" y="110.2" width="0.9" height="0.9" fill="#222" opacity="0.3"/>
<rect x="485.4" y="111.9" width="0.9" height="0.9" fill="#222" opacity="0.3"/>
<rect x="481.4" y="113.8" width="0.9" height="0.9" fill="#222" opacity="0.3"/>
<rect x="481.1" y="110.7" width="0.9" height="0.9" fill="#222" opacity="0.3"/>
<rect x="490.2" y="108.9" width="0.9" height="0.9" fill="#222" opacity="0.3"/>
<rect x="483.7" y="115.5" width="0.9" height="0.9" fill="#222" opacity="0.3"/>
<rect x="484.1" y="110.4" width="0.9" height="0.9" fill="#222" opacity="0.3"/>
<rect x="486.3" y="115.4" width="0.9" height="0.9" fill="#222" opacity="0.3"/>
<rect x="477.6" y="108.4" width="0.9" height="0.9" fill="#222" opacity="0.3"/>
<rect x="481.9" y="107.5" width="0.9" height="0.9" fill="#222" opacity="0.3"/>
<rect x="482.4" y="108.4" width="0.9" height="0.9" fill="#222" opacity="0.3"/>
<rect x="486.6" y="108.2" width="0.9" height="0.9" fill="#222" opacity="0.3"/>
<rect x="485.9" y="113.0" width="0.9" height="0.9" fill="#222" opacity="0.3"/>
<rect x="482.9" y="112.0" width="0.9" height="0.9" fill="#222" opacity="0.3"/>
<rect x="491.4" y="112.7" width="0.9" height="0.9" fill="#222" opacity="0.3"/>
<rect x="483.2" y="111.3" width="0.9" height="0.9" fill="#222" opacity="0.3"/>
<rect x="482.2" y="112.5" width="0.9" height="0.9" fill="#222" opacity="0.3"/>
<rect x="488.6" y="108.5" width="0.9" height="0.9" fill="#222" opacity="0.3"/>
<rect x="484.8" y="115.6" width="0.9" height="0.9" fill="#222" opacity="0.3"/>
<rect x="483.7" y="112.2" width="0.9" height="0.9" fill="#222" opacity="0.3"/>
<rect x="481.8" y="108.5" width="0.9" height="0.9" fill="#222" opacity="0.3"/>
<rect x="483.7" y="119.3" width="0.9" height="0.9" fill="#222" opacity="0.3"/>
<rect x="484.1" y="109.6" width="0.9" height="0.9" fill="#222" opacity="0.3"/>
<rect x="483.5" y="110.9" width="0.9" height="0.9" fill="#222" opacity="0.3"/>
<rect x="487.8" y="112.2" width="0.9" height="0.9" fill="#222" opacity="0.3"/>
<rect x="492.7" y="112.3" width="0.9" height="0.9" fill="#222" opacity="0.3"/>
<rect x="490.6" y="112.5" width="0.9" height="0.9" fill="#222" opacity="0.3"/>
<rect x="487.6" y="106.3" width="0.9" height="0.9" fill="#222" opacity="0.3"/>
<rect x="485.1" y="111.3" width="0.9" height="0.9" fill="#222" opacity="0.3"/>
<rect x="484.6" y="103.7" width="0.9" height="0.9" fill="#222" opacity="0.3"/>
<rect x="488.6" y="110.1" width="0.9" height="0.9" fill="#222" opacity="0.3"/>
<rect x="484.0" y="110.6" width="0.9" height="0.9" fill="#222" opacity="0.3"/>
<rect x="484.7" y="113.0" width="0.9" height="0.9" fill="#222" opacity="0.3"/>
<rect x="481.1" y="108.1" width="0.9" height="0.9" fill="#222" opacity="0.3"/>
<rect x="486.5" y="112.0" width="0.9" height="0.9" fill="#222" opacity="0.3"/>
<rect x="484.2" y="109.4" width="0.9" height="0.9" fill="#222" opacity="0.3"/>
<rect x="482.6" y="111.3" width="0.9" height="0.9" fill="#222" opacity="0.3"/>
<rect x="489.6" y="107.7" width="0.9" height="0.9" fill="#222" opacity="0.3"/>
<rect x="490.8" y="114.5" width="0.9" height="0.9" fill="#222" opacity="0.3"/>
<rect x="483.9" y="114.3" width="0.9" height="0.9" fill="#222" opacity="0.3"/>
<rect x="480.4" y="105.3" width="0.9" height="0.9" fill="#222" opacity="0.3"/>
<rect x="481.0" y="110.0" width="0.9" height="0.9" fill="#222" opacity="0.3"/>
<rect x="484.4" y="109.6" width="0.9" height="0.9" fill="#222" opacity="0.3"/>
<rect x="485.8" y="103.8" width="0.9" height="0.9" fill="#222" opacity="0.3"/>
<rect x="487.2" y="106.4" width="0.9" height="0.9" fill="#222" opacity="0.3"/>
<rect x="472.7" y="116.3" width="0.9" height="0.9" fill="#222" opacity="0.22"/>
<rect x="468.8" y="112.5" width="0.9" height="0.9" fill="#222" opacity="0.22"/>
<rect x="470.0" y="118.0" width="0.9" height="0.9" fill="#222" opacity="0.22"/>
<rect x="482.7" y="120.3" width="0.9" height="0.9" fill="#222" opacity="0.22"/>
<rect x="470.0" y="114.8" width="0.9" height="0.9" fill="#222" opacity="0.22"/>
<rect x="470.6" y="119.8" width="0.9" height="0.9" fill="#222" opacity="0.22"/>
<rect x="461.7" y="123.0" width="0.9" height="0.9" fill="#222" opacity="0.22"/>
<rect x="474.1" y="114.9" width="0.9" height="0.9" fill="#222" opacity="0.22"/>
<rect x="480.7" y="122.1" width="0.9" height="0.9" fill="#222" opacity="0.22"/>
<rect x="480.7" y="122.2" width="0.9" height="0.9" fill="#222" opacity="0.22"/>
<rect x="479.1" y="122.9" width="0.9" height="0.9" fill="#222" opacity="0.22"/>
<rect x="488.0" y="117.6" width="0.9" height="0.9" fill="#222" opacity="0.22"/>
<rect x="489.5" y="118.7" width="0.9" height="0.9" fill="#222" opacity="0.22"/>
<rect x="478.7" y="114.3" width="0.9" height="0.9" fill="#222" opacity="0.22"/>
<rect x="475.7" y="121.1" width="0.9" height="0.9" fill="#222" opacity="0.22"/>
<rect x="467.5" y="120.6" width="0.9" height="0.9" fill="#222" opacity="0.22"/>
<rect x="480.8" y="119.1" width="0.9" height="0.9" fill="#222" opacity="0.22"/>
<rect x="460.3" y="117.6" width="0.9" height="0.9" fill="#222" opacity="0.22"/>
<rect x="483.2" y="114.9" width="0.9" height="0.9" fill="#222" opacity="0.22"/>
<rect x="478.7" y="108.5" width="0.9" height="0.9" fill="#222" opacity="0.22"/>
<rect x="483.4" y="115.4" width="0.9" height="0.9" fill="#222" opacity="0.22"/>
<rect x="485.0" y="110.6" width="0.9" height="0.9" fill="#222" opacity="0.22"/>
<rect x="483.5" y="117.1" width="0.9" height="0.9" fill="#222" opacity="0.22"/>
<rect x="484.5" y="114.3" width="0.9" height="0.9" fill="#222" opacity="0.22"/>
<rect x="471.4" y="115.2" width="0.9" height="0.9" fill="#222" opacity="0.22"/>
<rect x="475.8" y="113.9" width="0.9" height="0.9" fill="#222" opacity="0.22"/>
<rect x="487.5" y="124.9" width="0.9" height="0.9" fill="#222" opacity="0.22"/>
<rect x="472.4" y="111.1" width="0.9" height="0.9" fill="#222" opacity="0.22"/>
<rect x="487.4" y="122.4" width="0.9" height="0.9" fill="#222" opacity="0.22"/>
<rect x="484.6" y="122.6" width="0.9" height="0.9" fill="#222" opacity="0.22"/>
<rect x="471.1" y="117.3" width="0.9" height="0.9" fill="#222" opacity="0.22"/>
<rect x="466.9" y="112.3" width="0.9" height="0.9" fill="#222" opacity="0.22"/>
<rect x="485.8" y="115.3" width="0.9" height="0.9" fill="#222" opacity="0.22"/>
<rect x="496.2" y="118.3" width="0.9" height="0.9" fill="#222" opacity="0.22"/>
<rect x="472.9" y="121.2" width="0.9" height="0.9" fill="#222" opacity="0.22"/>
<rect x="492.4" y="119.9" width="0.9" height="0.9" fill="#222" opacity="0.22"/>
<rect x="468.3" y="119.5" width="0.9" height="0.9" fill="#222" opacity="0.22"/>
<rect x="489.0" y="116.0" width="0.9" height="0.9" fill="#222" opacity="0.22"/>
<rect x="471.8" y="122.1" width="0.9" height="0.9" fill="#222" opacity="0.22"/>
<rect x="479.1" y="113.6" width="0.9" height="0.9" fill="#222" opacity="0.22"/>
<rect x="475.0" y="115.0" width="0.9" height="0.9" fill="#222" opacity="0.22"/>
<rect x="480.4" y="118.4" width="0.9" height="0.9" fill="#222" opacity="0.22"/>
<rect x="487.2" y="120.8" width="0.9" height="0.9" fill="#222" opacity="0.22"/>
<rect x="465.5" y="119.6" width="0.9" height="0.9" fill="#222" opacity="0.22"/>
<rect x="485.2" y="119.8" width="0.9" height="0.9" fill="#222" opacity="0.22"/>
<rect x="486.2" y="115.8" width="0.9" height="0.9" fill="#222" opacity="0.22"/>
<rect x="470.4" y="121.7" width="0.9" height="0.9" fill="#222" opacity="0.22"/>
<rect x="469.5" y="109.4" width="0.9" height="0.9" fill="#222" opacity="0.22"/>
<rect x="486.2" y="115.1" width="0.9" height="0.9" fill="#222" opacity="0.22"/>
<ellipse cx="486.3" cy="111.8" rx="5.2" ry="5.4" transform="rotate(0 486.3 111.8)" fill="#777" opacity="0.5" filter="url(#bl15)"/>
<ellipse cx="486.5" cy="112.0" rx="2.7" ry="2.5" transform="rotate(0 486.5 112.0)" fill="#111" opacity="0.65" filter="url(#bl12)"/>
<line x1="472.10" y1="82.90" x2="472.10" y2="125.80" stroke="#3a3a3a" stroke-width="1.2" />
<line x1="458.90" y1="111.40" x2="505.30" y2="111.40" stroke="#3a3a3a" stroke-width="1.2" />
<text x="500.80" y="90.28" font-size="5.50" text-anchor="end" fill="#231f20" textLength="10.50" lengthAdjust="spacingAndGlyphs">71.4%</text>
<text x="454.60" y="85.41" font-size="4.20" text-anchor="end" fill="#333" textLength="4.67" lengthAdjust="spacingAndGlyphs">10</text>
<text x="454.80" y="83.26" font-size="2.40" text-anchor="start" fill="#333">5</text>
<text x="454.60" y="94.81" font-size="4.20" text-anchor="end" fill="#333" textLength="4.67" lengthAdjust="spacingAndGlyphs">10</text>
<text x="454.80" y="92.66" font-size="2.40" text-anchor="start" fill="#333">4</text>
<text x="454.60" y="103.01" font-size="4.20" text-anchor="end" fill="#333" textLength="4.67" lengthAdjust="spacingAndGlyphs">10</text>
<text x="454.80" y="100.86" font-size="2.40" text-anchor="start" fill="#333">3</text>
<text x="454.60" y="111.11" font-size="4.20" text-anchor="end" fill="#333" textLength="4.67" lengthAdjust="spacingAndGlyphs">10</text>
<text x="454.80" y="108.96" font-size="2.40" text-anchor="start" fill="#333">2</text>
<text x="454.60" y="119.31" font-size="4.20" text-anchor="end" fill="#333" textLength="4.67" lengthAdjust="spacingAndGlyphs">10</text>
<text x="454.80" y="117.16" font-size="2.40" text-anchor="start" fill="#333">1</text>
<text x="454.60" y="127.31" font-size="4.20" text-anchor="end" fill="#333" textLength="4.67" lengthAdjust="spacingAndGlyphs">10</text>
<text x="454.80" y="125.16" font-size="2.40" text-anchor="start" fill="#333" textLength="2.13" lengthAdjust="spacingAndGlyphs">-1</text>
<text x="456.00" y="132.51" font-size="4.20" text-anchor="middle" fill="#333" textLength="4.67" lengthAdjust="spacingAndGlyphs">10</text>
<text x="458.40" y="130.36" font-size="2.40" text-anchor="start" fill="#333" textLength="2.13" lengthAdjust="spacingAndGlyphs">-1</text>
<text x="468.20" y="132.51" font-size="4.20" text-anchor="middle" fill="#333" textLength="4.67" lengthAdjust="spacingAndGlyphs">10</text>
<text x="470.60" y="130.36" font-size="2.40" text-anchor="start" fill="#333">1</text>
<text x="475.80" y="132.51" font-size="4.20" text-anchor="middle" fill="#333" textLength="4.67" lengthAdjust="spacingAndGlyphs">10</text>
<text x="478.20" y="130.36" font-size="2.40" text-anchor="start" fill="#333">2</text>
<text x="485.80" y="132.51" font-size="4.20" text-anchor="middle" fill="#333" textLength="4.67" lengthAdjust="spacingAndGlyphs">10</text>
<text x="488.20" y="130.36" font-size="2.40" text-anchor="start" fill="#333">3</text>
<text x="493.10" y="132.51" font-size="4.20" text-anchor="middle" fill="#333" textLength="4.67" lengthAdjust="spacingAndGlyphs">10</text>
<text x="495.50" y="130.36" font-size="2.40" text-anchor="start" fill="#333">4</text>
<text x="503.60" y="132.51" font-size="4.20" text-anchor="middle" fill="#333" textLength="4.67" lengthAdjust="spacingAndGlyphs">10</text>
<text x="506.00" y="130.36" font-size="2.40" text-anchor="start" fill="#333">5</text>
<line x1="458.90" y1="82.90" x2="458.90" y2="125.80" stroke="#777" stroke-width="1.0" stroke-dasharray="0.8 0.5"/>
<line x1="458.90" y1="125.80" x2="505.30" y2="125.80" stroke="#777" stroke-width="1.0" stroke-dasharray="0.8 0.5"/>
</g>
<line x1="280.10" y1="122.00" x2="280.10" y2="30.60" stroke="#6a6a6a" stroke-width="1.6" />
<polygon points="280.10,26.60 277.40,32.10 282.80,32.10" fill="#111"/>
<line x1="362.70" y1="122.00" x2="362.70" y2="30.40" stroke="#6a6a6a" stroke-width="1.6" />
<polygon points="362.70,26.40 360.00,31.90 365.40,31.90" fill="#111"/>
<line x1="443.40" y1="122.00" x2="443.40" y2="30.60" stroke="#6a6a6a" stroke-width="1.6" />
<polygon points="443.40,26.60 440.70,32.10 446.10,32.10" fill="#111"/>
<line x1="291.60" y1="140.70" x2="337.50" y2="140.70" stroke="#6a6a6a" stroke-width="1.6" />
<polygon points="341.50,140.70 336.00,138.00 336.00,143.40" fill="#111"/>
<line x1="369.20" y1="140.70" x2="425.20" y2="140.70" stroke="#6a6a6a" stroke-width="1.6" />
<polygon points="429.20,140.70 423.70,138.00 423.70,143.40" fill="#111"/>
<line x1="449.40" y1="140.70" x2="505.80" y2="140.70" stroke="#6a6a6a" stroke-width="1.6" />
<polygon points="509.80,140.70 504.30,138.00 504.30,143.40" fill="#111"/>
<text x="316.20" y="149.79" font-size="6.93" text-anchor="middle" fill="#231f20" textLength="18.00" lengthAdjust="spacingAndGlyphs" stroke="#231f20" stroke-width="0.12">Isotype</text>
<text x="399.50" y="148.99" font-size="6.93" text-anchor="middle" fill="#231f20" textLength="13.50" lengthAdjust="spacingAndGlyphs" stroke="#231f20" stroke-width="0.12">CD71</text>
<text x="479.80" y="148.99" font-size="6.93" text-anchor="middle" fill="#231f20" textLength="13.50" lengthAdjust="spacingAndGlyphs" stroke="#231f20" stroke-width="0.12">CD36</text>
<text x="273.80" y="77.79" font-size="6.93" text-anchor="middle" fill="#231f20" textLength="18.00" lengthAdjust="spacingAndGlyphs" transform="rotate(-90 273.80 75.30)" stroke="#231f20" stroke-width="0.12">Isotype</text>
<text x="353.50" y="76.49" font-size="6.93" text-anchor="middle" fill="#231f20" textLength="10.80" lengthAdjust="spacingAndGlyphs" transform="rotate(-90 353.50 74.00)" stroke="#231f20" stroke-width="0.12">GlyA</text>
<text x="437.60" y="76.99" font-size="6.93" text-anchor="middle" fill="#231f20" textLength="10.80" lengthAdjust="spacingAndGlyphs" transform="rotate(-90 437.60 74.50)" stroke="#231f20" stroke-width="0.12">GlyA</text>
<text x="266.20" y="53.45" font-size="7.92" text-anchor="middle" fill="#231f20" textLength="22.00" lengthAdjust="spacingAndGlyphs" transform="rotate(-90 266.20 50.60)" stroke="#231f20" stroke-width="0.12">Control</text>
<text x="266.60" y="98.33" font-size="8.14" text-anchor="middle" fill="#231f20" textLength="12.50" lengthAdjust="spacingAndGlyphs" transform="rotate(-90 266.60 95.40)" style="stroke-width:0.35" stroke="#231f20" stroke-width="0.12">CEP</text>
<line x1="302.30" y1="183.00" x2="302.30" y2="295.50" stroke="#231f20" stroke-width="1.1" />
<line x1="299.30" y1="295.50" x2="302.30" y2="295.50" stroke="#231f20" stroke-width="1" />
<text x="296.20" y="297.99" font-size="6.93" text-anchor="end" fill="#231f20" textLength="8.76" lengthAdjust="spacingAndGlyphs" stroke="#231f20" stroke-width="0.12">0.0</text>
<line x1="299.30" y1="273.42" x2="302.30" y2="273.42" stroke="#231f20" stroke-width="1" />
<text x="296.20" y="275.91" font-size="6.93" text-anchor="end" fill="#231f20" textLength="7.01" lengthAdjust="spacingAndGlyphs" stroke="#231f20" stroke-width="0.12">50</text>
<line x1="299.30" y1="251.34" x2="302.30" y2="251.34" stroke="#231f20" stroke-width="1" />
<text x="296.20" y="253.83" font-size="6.93" text-anchor="end" fill="#231f20" textLength="10.51" lengthAdjust="spacingAndGlyphs" stroke="#231f20" stroke-width="0.12">100</text>
<line x1="299.30" y1="229.26" x2="302.30" y2="229.26" stroke="#231f20" stroke-width="1" />
<text x="296.20" y="231.75" font-size="6.93" text-anchor="end" fill="#231f20" textLength="10.51" lengthAdjust="spacingAndGlyphs" stroke="#231f20" stroke-width="0.12">150</text>
<line x1="299.30" y1="207.18" x2="302.30" y2="207.18" stroke="#231f20" stroke-width="1" />
<text x="296.20" y="209.67" font-size="6.93" text-anchor="end" fill="#231f20" textLength="10.51" lengthAdjust="spacingAndGlyphs" stroke="#231f20" stroke-width="0.12">200</text>
<line x1="299.30" y1="185.10" x2="302.30" y2="185.10" stroke="#231f20" stroke-width="1" />
<text x="296.20" y="187.59" font-size="6.93" text-anchor="end" fill="#231f20" textLength="10.51" lengthAdjust="spacingAndGlyphs" stroke="#231f20" stroke-width="0.12">250</text>
<line x1="302.30" y1="295.50" x2="468.50" y2="295.50" stroke="#231f20" stroke-width="1.1" />
<line x1="326.40" y1="287.33" x2="326.40" y2="288.66" stroke="#222" stroke-width="1" />
<line x1="320.60" y1="287.33" x2="332.20" y2="287.33" stroke="#222" stroke-width="1.1" />
<rect x="315.15" y="289.11" width="22.50" height="6.39" fill="#8c80bd" stroke="#7a6eab" stroke-width="0.9" />
<line x1="361.90" y1="280.84" x2="361.90" y2="282.47" stroke="#222" stroke-width="1" />
<line x1="356.10" y1="280.84" x2="367.70" y2="280.84" stroke="#222" stroke-width="1.1" />
<rect x="350.65" y="282.92" width="22.50" height="12.58" fill="#8c80bd" stroke="#7a6eab" stroke-width="0.9" />
<line x1="409.40" y1="200.34" x2="409.40" y2="215.57" stroke="#222" stroke-width="1" />
<line x1="403.60" y1="200.34" x2="415.20" y2="200.34" stroke="#222" stroke-width="1.1" />
<rect x="398.15" y="216.02" width="22.50" height="79.48" fill="#4e5467" stroke="#2c3242" stroke-width="0.9" />
<line x1="444.70" y1="269.31" x2="444.70" y2="273.64" stroke="#222" stroke-width="1" />
<line x1="438.90" y1="269.31" x2="450.50" y2="269.31" stroke="#222" stroke-width="1.1" />
<rect x="433.45" y="274.09" width="22.50" height="21.41" fill="#4e5467" stroke="#2c3242" stroke-width="0.9" />
<line x1="302.30" y1="295.50" x2="468.50" y2="295.50" stroke="#231f20" stroke-width="1.1" />
<line x1="343.70" y1="295.50" x2="343.70" y2="298.10" stroke="#231f20" stroke-width="1" />
<line x1="426.80" y1="295.50" x2="426.80" y2="298.10" stroke="#231f20" stroke-width="1" />
<text x="444.60" y="267.78" font-size="5.50" text-anchor="middle" fill="#333">*</text>
<text x="268.20" y="242.22" font-size="8.40" text-anchor="middle" fill="#231f20" textLength="70.00" lengthAdjust="spacingAndGlyphs" transform="rotate(-90 268.20 239.20)" stroke="#231f20" stroke-width="0.12">Intracellular porphyrins</text>
<text x="278.00" y="242.22" font-size="8.40" text-anchor="middle" fill="#231f20" textLength="55.40" lengthAdjust="spacingAndGlyphs" transform="rotate(-90 278.00 239.20)" stroke="#231f20" stroke-width="0.12">(nmoles/g potein)</text>
<text x="294.60" y="309.99" font-size="7.48" text-anchor="middle" fill="#231f20" textLength="34.70" lengthAdjust="spacingAndGlyphs" stroke="#231f20" stroke-width="0.12">Deferiprone</text>
<text x="295.00" y="317.69" font-size="7.48" text-anchor="middle" fill="#231f20" textLength="20.50" lengthAdjust="spacingAndGlyphs" stroke="#231f20" stroke-width="0.12">200µM</text>
<line x1="325.50" y1="305.90" x2="327.10" y2="305.90" stroke="#231f20" stroke-width="0.9" opacity="0.85"/>
<path d="M360.15,305.80H363.05M361.60,304.35V307.25" stroke="#231f20" stroke-width="0.75" fill="none"/>
<line x1="408.40" y1="305.90" x2="410.00" y2="305.90" stroke="#231f20" stroke-width="0.9" opacity="0.85"/>
<path d="M443.55,305.80H446.45M445.00,304.35V307.25" stroke="#231f20" stroke-width="0.75" fill="none"/>
<line x1="316.60" y1="311.40" x2="370.90" y2="311.40" stroke="#231f20" stroke-width="1.25" />
<line x1="399.80" y1="311.40" x2="454.00" y2="311.40" stroke="#231f20" stroke-width="1.25" />
<text x="343.60" y="320.89" font-size="7.48" text-anchor="middle" fill="#231f20" textLength="20.00" lengthAdjust="spacingAndGlyphs" stroke="#231f20" stroke-width="0.12">Control</text>
<text x="427.10" y="320.39" font-size="7.48" text-anchor="middle" fill="#231f20" textLength="11.50" lengthAdjust="spacingAndGlyphs" stroke="#231f20" stroke-width="0.12">CEP</text>
<line x1="300.50" y1="350.00" x2="300.50" y2="463.20" stroke="#231f20" stroke-width="1.1" />
<line x1="297.50" y1="463.20" x2="300.50" y2="463.20" stroke="#231f20" stroke-width="1" />
<text x="295.50" y="465.69" font-size="6.93" text-anchor="end" fill="#231f20" textLength="8.76" lengthAdjust="spacingAndGlyphs" stroke="#231f20" stroke-width="0.12">0.0</text>
<line x1="297.50" y1="441.13" x2="300.50" y2="441.13" stroke="#231f20" stroke-width="1" />
<text x="295.50" y="443.62" font-size="6.93" text-anchor="end" fill="#231f20" textLength="8.76" lengthAdjust="spacingAndGlyphs" stroke="#231f20" stroke-width="0.12">0.5</text>
<line x1="297.50" y1="419.06" x2="300.50" y2="419.06" stroke="#231f20" stroke-width="1" />
<text x="295.50" y="421.55" font-size="6.93" text-anchor="end" fill="#231f20" textLength="8.76" lengthAdjust="spacingAndGlyphs" stroke="#231f20" stroke-width="0.12">1.0</text>
<line x1="297.50" y1="396.99" x2="300.50" y2="396.99" stroke="#231f20" stroke-width="1" />
<text x="295.50" y="399.48" font-size="6.93" text-anchor="end" fill="#231f20" textLength="8.76" lengthAdjust="spacingAndGlyphs" stroke="#231f20" stroke-width="0.12">1.5</text>
<line x1="297.50" y1="374.92" x2="300.50" y2="374.92" stroke="#231f20" stroke-width="1" />
<text x="295.50" y="377.41" font-size="6.93" text-anchor="end" fill="#231f20" textLength="8.76" lengthAdjust="spacingAndGlyphs" stroke="#231f20" stroke-width="0.12">2.0</text>
<line x1="297.50" y1="352.85" x2="300.50" y2="352.85" stroke="#231f20" stroke-width="1" />
<text x="295.50" y="355.34" font-size="6.93" text-anchor="end" fill="#231f20" textLength="8.76" lengthAdjust="spacingAndGlyphs" stroke="#231f20" stroke-width="0.12">2.5</text>
<line x1="300.50" y1="463.20" x2="467.00" y2="463.20" stroke="#231f20" stroke-width="1.1" />
<line x1="324.40" y1="415.75" x2="324.40" y2="419.06" stroke="#222" stroke-width="1" />
<line x1="318.60" y1="415.75" x2="330.20" y2="415.75" stroke="#222" stroke-width="1.1" />
<rect x="313.15" y="419.51" width="22.50" height="43.69" fill="#8c80bd" stroke="#7a6eab" stroke-width="0.9" />
<line x1="360.00" y1="413.76" x2="360.00" y2="417.74" stroke="#222" stroke-width="1" />
<line x1="354.20" y1="413.76" x2="365.80" y2="413.76" stroke="#222" stroke-width="1.1" />
<rect x="348.75" y="418.19" width="22.50" height="45.01" fill="#8c80bd" stroke="#7a6eab" stroke-width="0.9" />
<line x1="407.90" y1="416.85" x2="407.90" y2="419.06" stroke="#222" stroke-width="1" />
<line x1="402.10" y1="416.85" x2="413.70" y2="416.85" stroke="#222" stroke-width="1.1" />
<rect x="396.65" y="419.51" width="22.50" height="43.69" fill="#4e5467" stroke="#2c3242" stroke-width="0.9" />
<line x1="443.30" y1="378.01" x2="443.30" y2="390.37" stroke="#222" stroke-width="1" />
<line x1="437.50" y1="378.01" x2="449.10" y2="378.01" stroke="#222" stroke-width="1.1" />
<rect x="432.05" y="390.82" width="22.50" height="72.38" fill="#4e5467" stroke="#2c3242" stroke-width="0.9" />
<line x1="300.50" y1="463.20" x2="467.00" y2="463.20" stroke="#231f20" stroke-width="1.1" />
<line x1="342.30" y1="463.20" x2="342.30" y2="465.80" stroke="#231f20" stroke-width="1" />
<line x1="425.00" y1="463.20" x2="425.00" y2="465.80" stroke="#231f20" stroke-width="1" />
<text x="442.90" y="376.98" font-size="5.50" text-anchor="middle" fill="#333">*</text>
<text x="268.20" y="410.52" font-size="8.40" text-anchor="middle" fill="#231f20" textLength="40.00" lengthAdjust="spacingAndGlyphs" transform="rotate(-90 268.20 407.50)" stroke="#231f20" stroke-width="0.12">ALAS2 mRNA</text>
<text x="278.00" y="410.92" font-size="8.40" text-anchor="middle" fill="#231f20" textLength="49.40" lengthAdjust="spacingAndGlyphs" transform="rotate(-90 278.00 407.90)" stroke="#231f20" stroke-width="0.12">(ratio of control)</text>
<text x="293.30" y="474.59" font-size="7.48" text-anchor="middle" fill="#231f20" textLength="34.10" lengthAdjust="spacingAndGlyphs" stroke="#231f20" stroke-width="0.12">Deferiprone</text>
<text x="293.00" y="481.49" font-size="7.48" text-anchor="middle" fill="#231f20" textLength="20.80" lengthAdjust="spacingAndGlyphs" stroke="#231f20" stroke-width="0.12">200µM</text>
<line x1="323.40" y1="473.40" x2="325.00" y2="473.40" stroke="#231f20" stroke-width="0.9" opacity="0.85"/>
<path d="M358.45,473.30H361.35M359.90,471.85V474.75" stroke="#231f20" stroke-width="0.75" fill="none"/>
<line x1="406.30" y1="473.40" x2="407.90" y2="473.40" stroke="#231f20" stroke-width="0.9" opacity="0.85"/>
<path d="M441.45,473.30H444.35M442.90,471.85V474.75" stroke="#231f20" stroke-width="0.75" fill="none"/>
<line x1="315.00" y1="479.30" x2="369.00" y2="479.30" stroke="#231f20" stroke-width="1.25" />
<line x1="398.50" y1="479.30" x2="452.50" y2="479.30" stroke="#231f20" stroke-width="1.25" />
<text x="342.00" y="488.39" font-size="7.48" text-anchor="middle" fill="#231f20" textLength="20.00" lengthAdjust="spacingAndGlyphs" stroke="#231f20" stroke-width="0.12">Control</text>
<text x="425.50" y="488.39" font-size="7.48" text-anchor="middle" fill="#231f20" textLength="11.50" lengthAdjust="spacingAndGlyphs" stroke="#231f20" stroke-width="0.12">CEP</text>
<text x="351.20" y="526.29" font-size="7.48" text-anchor="middle" fill="#231f20" textLength="20.00" lengthAdjust="spacingAndGlyphs" stroke="#231f20" stroke-width="0.12">Control</text>
<text x="406.20" y="526.29" font-size="7.48" text-anchor="middle" fill="#231f20" textLength="11.50" lengthAdjust="spacingAndGlyphs" stroke="#231f20" stroke-width="0.12">CEP</text>
<line x1="329.60" y1="530.00" x2="372.70" y2="530.00" stroke="#231f20" stroke-width="1.25" />
<line x1="385.00" y1="530.00" x2="428.20" y2="530.00" stroke="#231f20" stroke-width="1.25" />
<text x="323.30" y="536.39" font-size="7.48" text-anchor="end" fill="#231f20" textLength="34.60" lengthAdjust="spacingAndGlyphs" stroke="#231f20" stroke-width="0.12">Deferiprone</text>
<text x="316.20" y="543.49" font-size="7.48" text-anchor="end" fill="#231f20" textLength="20.40" lengthAdjust="spacingAndGlyphs" stroke="#231f20" stroke-width="0.12">200µM</text>
<line x1="336.10" y1="539.60" x2="337.70" y2="539.60" stroke="#231f20" stroke-width="0.9" opacity="0.85"/>
<path d="M362.75,539.50H365.65M364.20,538.05V540.95" stroke="#231f20" stroke-width="0.75" fill="none"/>
<line x1="389.90" y1="539.60" x2="391.50" y2="539.60" stroke="#231f20" stroke-width="0.9" opacity="0.85"/>
<path d="M416.35,539.50H419.25M417.80,538.05V540.95" stroke="#231f20" stroke-width="0.75" fill="none"/>
<rect x="326" y="551" width="20" height="10" fill="#aaa" opacity="0.22" filter="url(#bl15)"/>
<rect x="382.5" y="551" width="19" height="10.5" fill="#999" opacity="0.45" filter="url(#bl15)"/>
<rect x="382.50" y="554.10" width="19.00" height="2.40" rx="1.20" fill="#888" opacity="0.45" filter="url(#bl7)"/>
<rect x="325.60" y="571.90" width="21.00" height="3.00" rx="1.50" fill="#111" opacity="0.9" filter="url(#bl5)"/>
<rect x="352.60" y="572.00" width="22.00" height="2.80" rx="1.40" fill="#111" opacity="0.8" filter="url(#bl5)"/>
<rect x="381.15" y="571.30" width="21.50" height="4.20" rx="2.10" fill="#111" opacity="1.0" filter="url(#bl5)"/>
<rect x="409.30" y="572.20" width="19.00" height="2.40" rx="1.20" fill="#111" opacity="0.75" filter="url(#bl5)"/>
<rect x="322.30" y="548.90" width="110.00" height="14.10" fill="none" stroke="#1a1a1a" stroke-width="1.3" />
<rect x="322.30" y="565.50" width="110.00" height="14.10" fill="none" stroke="#1a1a1a" stroke-width="1.3" />
<text x="319.40" y="558.69" font-size="7.48" text-anchor="end" fill="#231f20" textLength="19.00" lengthAdjust="spacingAndGlyphs" stroke="#231f20" stroke-width="0.12">ALAS2</text>
<text x="319.40" y="575.19" font-size="7.48" text-anchor="end" fill="#231f20" textLength="22.00" lengthAdjust="spacingAndGlyphs" stroke="#231f20" stroke-width="0.12">GAPDH</text>
<text x="319.40" y="592.89" font-size="7.48" text-anchor="end" fill="#231f20" textLength="44.20" lengthAdjust="spacingAndGlyphs" stroke="#231f20" stroke-width="0.12">ALAS2/GAPDH</text>
<text x="335.80" y="593.29" font-size="7.48" text-anchor="middle" fill="#231f20" textLength="12.40" lengthAdjust="spacingAndGlyphs" stroke="#231f20" stroke-width="0.12">0,56</text>
<text x="365.30" y="593.29" font-size="7.48" text-anchor="middle" fill="#231f20" textLength="8.20" lengthAdjust="spacingAndGlyphs" stroke="#231f20" stroke-width="0.12">ND</text>
<text x="392.80" y="593.29" font-size="7.48" text-anchor="middle" fill="#231f20" textLength="12.40" lengthAdjust="spacingAndGlyphs" stroke="#231f20" stroke-width="0.12">0,88</text>
<text x="421.90" y="593.29" font-size="7.48" text-anchor="middle" fill="#231f20" textLength="8.20" lengthAdjust="spacingAndGlyphs" stroke="#231f20" stroke-width="0.12">ND</text>
<rect x="0" y="0" width="520" height="1.1" fill="#222"/>
<rect x="0" y="0" width="1.2" height="601" fill="#222"/>
<rect x="518.6" y="0" width="1.4" height="601" fill="#222"/>
<rect x="0" y="599.6" width="520" height="1.4" fill="#222"/></svg>
</body></html>
